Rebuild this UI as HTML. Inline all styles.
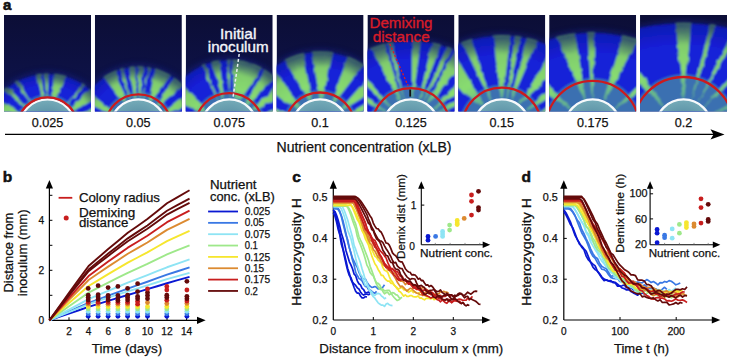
<!DOCTYPE html>
<html><head><meta charset="utf-8"><style>
html,body{margin:0;padding:0;background:#fff;width:729px;height:359px;overflow:hidden;}
svg{display:block;font-family:"Liberation Sans", sans-serif;}
</style></head><body>
<svg width="729" height="359" viewBox="0 0 729 359">
<rect width="729" height="359" fill="#fff"/>
<defs>
<filter id="bl" x="-10%" y="-10%" width="120%" height="120%"><feGaussianBlur stdDeviation="1.2"/></filter>
<filter id="bl2" x="-30%" y="-30%" width="160%" height="160%"><feGaussianBlur stdDeviation="3"/></filter>
<filter id="rag" x="-10%" y="-10%" width="120%" height="120%"><feTurbulence type="fractalNoise" baseFrequency="0.12" numOctaves="2" seed="3" result="n"/><feDisplacementMap in="SourceGraphic" in2="n" scale="4" xChannelSelector="R" yChannelSelector="G" result="d"/><feGaussianBlur in="d" stdDeviation="0.6"/></filter>
<linearGradient id="bgg" x1="0" y1="0" x2="0" y2="1"><stop offset="0" stop-color="#0c0e36"/><stop offset="1" stop-color="#0e1450"/></linearGradient>
<clipPath id="cp0"><rect x="4.00" y="15.0" width="87.0" height="96.5"/></clipPath>
<clipPath id="cc0"><ellipse cx="47.50" cy="127.5" rx="61.00" ry="54.00"/></clipPath>
<radialGradient id="gg0" gradientUnits="userSpaceOnUse" cx="47.50" cy="127.5" r="54.00" gradientTransform="translate(47.50,127.5) scale(1.1321,1) translate(-47.50,-127.5)"><stop offset="0.3" stop-color="#6cbc88"/><stop offset="0.55" stop-color="#88dc70"/><stop offset="0.8" stop-color="#80cc6c"/><stop offset="1" stop-color="#4a7c5c"/></radialGradient>
<radialGradient id="sh0" gradientUnits="userSpaceOnUse" cx="47.50" cy="127.5" r="54.00" gradientTransform="translate(47.50,127.5) scale(1.1321,1) translate(-47.50,-127.5)"><stop offset="0.78" stop-color="#0a1080" stop-opacity="0"/><stop offset="1" stop-color="#0a1080" stop-opacity="0.45"/></radialGradient>
<radialGradient id="ig0" gradientUnits="userSpaceOnUse" cx="47.50" cy="133.5" r="32"><stop offset="0" stop-color="#44708a"/><stop offset="0.6" stop-color="#5c92a6"/><stop offset="1" stop-color="#72a8b6"/></radialGradient>
<clipPath id="cp1"><rect x="94.86" y="15.0" width="87.0" height="96.5"/></clipPath>
<clipPath id="cc1"><ellipse cx="138.36" cy="127.5" rx="62.00" ry="61.20"/></clipPath>
<radialGradient id="gg1" gradientUnits="userSpaceOnUse" cx="138.36" cy="127.5" r="61.20" gradientTransform="translate(138.36,127.5) scale(1.0133,1) translate(-138.36,-127.5)"><stop offset="0.3" stop-color="#6cbc88"/><stop offset="0.55" stop-color="#88dc70"/><stop offset="0.8" stop-color="#80cc6c"/><stop offset="1" stop-color="#4a7c5c"/></radialGradient>
<radialGradient id="sh1" gradientUnits="userSpaceOnUse" cx="138.36" cy="127.5" r="61.20" gradientTransform="translate(138.36,127.5) scale(1.0133,1) translate(-138.36,-127.5)"><stop offset="0.78" stop-color="#0a1080" stop-opacity="0"/><stop offset="1" stop-color="#0a1080" stop-opacity="0.45"/></radialGradient>
<radialGradient id="ig1" gradientUnits="userSpaceOnUse" cx="138.36" cy="133.5" r="32"><stop offset="0" stop-color="#44708a"/><stop offset="0.6" stop-color="#5c92a6"/><stop offset="1" stop-color="#72a8b6"/></radialGradient>
<clipPath id="cp2"><rect x="185.72" y="15.0" width="87.0" height="96.5"/></clipPath>
<clipPath id="cc2"><ellipse cx="229.22" cy="127.5" rx="68.00" ry="68.10"/></clipPath>
<radialGradient id="gg2" gradientUnits="userSpaceOnUse" cx="229.22" cy="127.5" r="68.10" gradientTransform="translate(229.22,127.5) scale(0.9985,1) translate(-229.22,-127.5)"><stop offset="0.3" stop-color="#6cbc88"/><stop offset="0.55" stop-color="#88dc70"/><stop offset="0.8" stop-color="#80cc6c"/><stop offset="1" stop-color="#4a7c5c"/></radialGradient>
<radialGradient id="sh2" gradientUnits="userSpaceOnUse" cx="229.22" cy="127.5" r="68.10" gradientTransform="translate(229.22,127.5) scale(0.9985,1) translate(-229.22,-127.5)"><stop offset="0.78" stop-color="#0a1080" stop-opacity="0"/><stop offset="1" stop-color="#0a1080" stop-opacity="0.45"/></radialGradient>
<radialGradient id="ig2" gradientUnits="userSpaceOnUse" cx="229.22" cy="133.5" r="32"><stop offset="0" stop-color="#44708a"/><stop offset="0.6" stop-color="#5c92a6"/><stop offset="1" stop-color="#72a8b6"/></radialGradient>
<clipPath id="cp3"><rect x="276.58" y="15.0" width="87.0" height="96.5"/></clipPath>
<clipPath id="cc3"><ellipse cx="320.08" cy="127.5" rx="77.00" ry="76.20"/></clipPath>
<radialGradient id="gg3" gradientUnits="userSpaceOnUse" cx="320.08" cy="127.5" r="76.20" gradientTransform="translate(320.08,127.5) scale(1.0106,1) translate(-320.08,-127.5)"><stop offset="0.3" stop-color="#6cbc88"/><stop offset="0.55" stop-color="#88dc70"/><stop offset="0.8" stop-color="#80cc6c"/><stop offset="1" stop-color="#4a7c5c"/></radialGradient>
<radialGradient id="sh3" gradientUnits="userSpaceOnUse" cx="320.08" cy="127.5" r="76.20" gradientTransform="translate(320.08,127.5) scale(1.0106,1) translate(-320.08,-127.5)"><stop offset="0.78" stop-color="#0a1080" stop-opacity="0"/><stop offset="1" stop-color="#0a1080" stop-opacity="0.45"/></radialGradient>
<radialGradient id="ig3" gradientUnits="userSpaceOnUse" cx="320.08" cy="133.5" r="32"><stop offset="0" stop-color="#44708a"/><stop offset="0.6" stop-color="#5c92a6"/><stop offset="1" stop-color="#72a8b6"/></radialGradient>
<clipPath id="cp4"><rect x="367.44" y="15.0" width="87.0" height="96.5"/></clipPath>
<clipPath id="cc4"><ellipse cx="410.94" cy="127.5" rx="97.00" ry="87.20"/></clipPath>
<radialGradient id="gg4" gradientUnits="userSpaceOnUse" cx="410.94" cy="127.5" r="87.20" gradientTransform="translate(410.94,127.5) scale(1.1137,1) translate(-410.94,-127.5)"><stop offset="0.3" stop-color="#6cbc88"/><stop offset="0.55" stop-color="#88dc70"/><stop offset="0.8" stop-color="#80cc6c"/><stop offset="1" stop-color="#4a7c5c"/></radialGradient>
<radialGradient id="sh4" gradientUnits="userSpaceOnUse" cx="410.94" cy="127.5" r="87.20" gradientTransform="translate(410.94,127.5) scale(1.1137,1) translate(-410.94,-127.5)"><stop offset="0.78" stop-color="#0a1080" stop-opacity="0"/><stop offset="1" stop-color="#0a1080" stop-opacity="0.45"/></radialGradient>
<radialGradient id="ig4" gradientUnits="userSpaceOnUse" cx="410.94" cy="133.5" r="32"><stop offset="0" stop-color="#44708a"/><stop offset="0.6" stop-color="#5c92a6"/><stop offset="1" stop-color="#72a8b6"/></radialGradient>
<clipPath id="cp5"><rect x="458.30" y="15.0" width="87.0" height="96.5"/></clipPath>
<clipPath id="cc5"><ellipse cx="501.80" cy="127.5" rx="104.00" ry="92.60"/></clipPath>
<radialGradient id="gg5" gradientUnits="userSpaceOnUse" cx="501.80" cy="127.5" r="92.60" gradientTransform="translate(501.80,127.5) scale(1.1245,1) translate(-501.80,-127.5)"><stop offset="0.3" stop-color="#6cbc88"/><stop offset="0.55" stop-color="#88dc70"/><stop offset="0.8" stop-color="#80cc6c"/><stop offset="1" stop-color="#4a7c5c"/></radialGradient>
<radialGradient id="sh5" gradientUnits="userSpaceOnUse" cx="501.80" cy="127.5" r="92.60" gradientTransform="translate(501.80,127.5) scale(1.1245,1) translate(-501.80,-127.5)"><stop offset="0.78" stop-color="#0a1080" stop-opacity="0"/><stop offset="1" stop-color="#0a1080" stop-opacity="0.45"/></radialGradient>
<radialGradient id="ig5" gradientUnits="userSpaceOnUse" cx="501.80" cy="133.5" r="32"><stop offset="0" stop-color="#44708a"/><stop offset="0.6" stop-color="#5c92a6"/><stop offset="1" stop-color="#72a8b6"/></radialGradient>
<clipPath id="cp6"><rect x="549.16" y="15.0" width="87.0" height="96.5"/></clipPath>
<clipPath id="cc6"><ellipse cx="592.66" cy="127.5" rx="119.00" ry="95.40"/></clipPath>
<radialGradient id="gg6" gradientUnits="userSpaceOnUse" cx="592.66" cy="127.5" r="95.40" gradientTransform="translate(592.66,127.5) scale(1.2500,1) translate(-592.66,-127.5)"><stop offset="0.3" stop-color="#6cbc88"/><stop offset="0.55" stop-color="#88dc70"/><stop offset="0.8" stop-color="#80cc6c"/><stop offset="1" stop-color="#4a7c5c"/></radialGradient>
<radialGradient id="sh6" gradientUnits="userSpaceOnUse" cx="592.66" cy="127.5" r="95.40" gradientTransform="translate(592.66,127.5) scale(1.2500,1) translate(-592.66,-127.5)"><stop offset="0.78" stop-color="#0a1080" stop-opacity="0"/><stop offset="1" stop-color="#0a1080" stop-opacity="0.45"/></radialGradient>
<radialGradient id="ig6" gradientUnits="userSpaceOnUse" cx="592.66" cy="133.5" r="32"><stop offset="0" stop-color="#44708a"/><stop offset="0.6" stop-color="#5c92a6"/><stop offset="1" stop-color="#72a8b6"/></radialGradient>
<clipPath id="cp7"><rect x="640.02" y="15.0" width="87.0" height="96.5"/></clipPath>
<clipPath id="cc7"><ellipse cx="683.52" cy="127.5" rx="151.00" ry="104.90"/></clipPath>
<radialGradient id="gg7" gradientUnits="userSpaceOnUse" cx="683.52" cy="127.5" r="104.90" gradientTransform="translate(683.52,127.5) scale(1.4437,1) translate(-683.52,-127.5)"><stop offset="0.3" stop-color="#6cbc88"/><stop offset="0.55" stop-color="#88dc70"/><stop offset="0.8" stop-color="#80cc6c"/><stop offset="1" stop-color="#4a7c5c"/></radialGradient>
<radialGradient id="sh7" gradientUnits="userSpaceOnUse" cx="683.52" cy="127.5" r="104.90" gradientTransform="translate(683.52,127.5) scale(1.4437,1) translate(-683.52,-127.5)"><stop offset="0.78" stop-color="#0a1080" stop-opacity="0"/><stop offset="1" stop-color="#0a1080" stop-opacity="0.45"/></radialGradient>
<radialGradient id="ig7" gradientUnits="userSpaceOnUse" cx="683.52" cy="133.5" r="32"><stop offset="0" stop-color="#44708a"/><stop offset="0.6" stop-color="#5c92a6"/><stop offset="1" stop-color="#72a8b6"/></radialGradient>
</defs>
<g clip-path="url(#cp0)">
<rect x="4.00" y="15.0" width="87.0" height="96.5" fill="url(#bgg)"/>
<ellipse cx="47.50" cy="127.5" rx="63.00" ry="56.00" fill="#16228e" opacity="0.55" filter="url(#bl2)"/>
<g filter="url(#bl)">
<ellipse cx="47.50" cy="127.5" rx="60.00" ry="53.00" fill="#1420d8"/>
<circle cx="47.50" cy="127.5" r="30.15" fill="none" stroke="#4a90a0" stroke-width="5.10" opacity="0.6"/>
<g clip-path="url(#cc0)"><g filter="url(#rag)">
<path d="M21.64,114.15 L-5.91,94.96 L-11.76,107.50 L20.65,116.27 Z" fill="url(#gg0)"/>
<path d="M26.62,107.23 L5.58,83.99 L1.18,88.71 L25.82,108.08 Z" fill="url(#gg0)"/>
<path d="M31.52,103.18 L16.09,77.65 L13.04,79.70 L30.94,103.57 Z" fill="url(#gg0)"/>
<path d="M43.53,98.67 L41.41,70.68 L35.73,71.58 L42.37,98.86 Z" fill="url(#gg0)"/>
<path d="M47.46,98.40 L48.79,70.51 L44.22,70.59 L46.53,98.42 Z" fill="url(#gg0)"/>
<path d="M55.40,99.49 L67.04,73.64 L53.55,70.52 L52.67,98.86 Z" fill="url(#gg0)"/>
<path d="M66.47,105.43 L87.22,83.09 L84.34,80.67 L65.94,104.98 Z" fill="url(#gg0)"/>
<path d="M71.71,111.35 L100.68,97.06 L92.89,86.33 L70.34,109.46 Z" fill="url(#gg0)"/>
<path d="M75.08,118.21 L108.05,109.96 L105.16,102.02 L74.60,116.89 Z" fill="url(#gg0)"/>
</g></g>
<ellipse cx="47.50" cy="127.5" rx="60.00" ry="53.00" fill="url(#sh0)"/>
<circle cx="47.50" cy="127.5" r="30.15" fill="none" stroke="#4c98a4" stroke-width="5.10" opacity="0.25"/>
</g>
<circle cx="47.50" cy="127.5" r="28.10" fill="url(#ig0)" stroke="#f6f9fb" stroke-width="2.4"/>
<circle cx="47.50" cy="127.5" r="30.20" fill="none" stroke="#cc1a1e" stroke-width="2.3"/>
</g>
<text x="47.50" y="127" font-size="12.6" text-anchor="middle" fill="#111" font-weight="normal" stroke="#111" stroke-width="0.25">0.025</text>
<g clip-path="url(#cp1)">
<rect x="94.86" y="15.0" width="87.0" height="96.5" fill="url(#bgg)"/>
<ellipse cx="138.36" cy="127.5" rx="64.00" ry="63.20" fill="#16228e" opacity="0.55" filter="url(#bl2)"/>
<g filter="url(#bl)">
<ellipse cx="138.36" cy="127.5" rx="61.00" ry="60.20" fill="#1420d8"/>
<circle cx="138.36" cy="127.5" r="31.65" fill="none" stroke="#4a90a0" stroke-width="8.10" opacity="0.6"/>
<g clip-path="url(#cc1)"><g filter="url(#rag)">
<path d="M113.76,111.95 L85.81,89.59 L79.25,100.95 L112.60,113.97 Z" fill="url(#gg1)"/>
<path d="M125.95,101.18 L115.21,67.43 L101.51,74.72 L123.48,102.49 Z" fill="url(#gg1)"/>
<path d="M130.68,99.43 L122.52,65.22 L118.79,66.29 L130.00,99.63 Z" fill="url(#gg1)"/>
<path d="M136.02,98.49 L135.50,63.35 L127.82,64.16 L134.62,98.64 Z" fill="url(#gg1)"/>
<path d="M139.96,98.44 L143.82,63.53 L137.38,63.31 L138.79,98.40 Z" fill="url(#gg1)"/>
<path d="M143.64,98.88 L150.78,64.49 L148.24,64.04 L143.18,98.80 Z" fill="url(#gg1)"/>
<path d="M151.67,101.62 L172.51,72.99 L156.02,65.64 L148.68,100.29 Z" fill="url(#gg1)"/>
<path d="M158.32,106.32 L185.39,83.30 L175.58,74.77 L156.55,104.79 Z" fill="url(#gg1)"/>
<path d="M164.36,114.42 L197.93,101.98 L191.57,90.50 L163.22,112.38 Z" fill="url(#gg1)"/>
</g></g>
<ellipse cx="138.36" cy="127.5" rx="61.00" ry="60.20" fill="url(#sh1)"/>
<circle cx="138.36" cy="127.5" r="31.65" fill="none" stroke="#4c98a4" stroke-width="8.10" opacity="0.25"/>
</g>
<circle cx="138.36" cy="127.5" r="28.10" fill="url(#ig1)" stroke="#f6f9fb" stroke-width="2.4"/>
<circle cx="138.36" cy="127.5" r="33.20" fill="none" stroke="#cc1a1e" stroke-width="2.3"/>
</g>
<text x="138.36" y="127" font-size="12.6" text-anchor="middle" fill="#111" font-weight="normal" stroke="#111" stroke-width="0.25">0.05</text>
<g clip-path="url(#cp2)">
<rect x="185.72" y="15.0" width="87.0" height="96.5" fill="url(#bgg)"/>
<ellipse cx="229.22" cy="127.5" rx="70.00" ry="70.10" fill="#16228e" opacity="0.55" filter="url(#bl2)"/>
<g filter="url(#bl)">
<ellipse cx="229.22" cy="127.5" rx="67.00" ry="67.10" fill="#1420d8"/>
<circle cx="229.22" cy="127.5" r="32.20" fill="none" stroke="#4a90a0" stroke-width="9.20" opacity="0.6"/>
<g clip-path="url(#cc2)"><g filter="url(#rag)">
<path d="M206.19,109.71 L177.43,78.88 L164.74,97.70 L204.10,112.81 Z" fill="url(#gg2)"/>
<path d="M218.41,100.48 L204.01,61.04 L200.05,62.67 L217.76,100.75 Z" fill="url(#gg2)"/>
<path d="M224.01,98.87 L219.02,57.14 L210.64,58.87 L222.63,99.15 Z" fill="url(#gg2)"/>
<path d="M229.45,98.40 L230.65,56.41 L227.79,56.41 L228.99,98.40 Z" fill="url(#gg2)"/>
<path d="M239.89,100.43 L264.55,65.81 L231.95,56.46 L234.51,98.89 Z" fill="url(#gg2)"/>
<path d="M247.65,104.98 L277.46,75.31 L266.09,66.75 L245.79,103.58 Z" fill="url(#gg2)"/>
<path d="M253.43,111.35 L290.58,91.71 L282.22,80.20 L252.06,109.46 Z" fill="url(#gg2)"/>
<path d="M257.17,119.40 L298.29,111.04 L294.78,100.22 L256.59,117.62 Z" fill="url(#gg2)"/>
</g></g>
<ellipse cx="229.22" cy="127.5" rx="67.00" ry="67.10" fill="url(#sh2)"/>
<circle cx="229.22" cy="127.5" r="32.20" fill="none" stroke="#4c98a4" stroke-width="9.20" opacity="0.25"/>
</g>
<circle cx="229.22" cy="127.5" r="28.10" fill="url(#ig2)" stroke="#f6f9fb" stroke-width="2.4"/>
<circle cx="229.22" cy="127.5" r="34.30" fill="none" stroke="#cc1a1e" stroke-width="2.3"/>
</g>
<text x="229.22" y="127" font-size="12.6" text-anchor="middle" fill="#111" font-weight="normal" stroke="#111" stroke-width="0.25">0.075</text>
<g clip-path="url(#cp3)">
<rect x="276.58" y="15.0" width="87.0" height="96.5" fill="url(#bgg)"/>
<ellipse cx="320.08" cy="127.5" rx="79.00" ry="78.20" fill="#16228e" opacity="0.55" filter="url(#bl2)"/>
<g filter="url(#bl)">
<ellipse cx="320.08" cy="127.5" rx="76.00" ry="75.20" fill="#1420d8"/>
<circle cx="320.08" cy="127.5" r="32.55" fill="none" stroke="#4a90a0" stroke-width="9.90" opacity="0.6"/>
<g clip-path="url(#cc3)"><g filter="url(#rag)">
<path d="M292.98,116.89 L246.79,95.66 L243.47,104.78 L292.50,118.21 Z" fill="url(#gg3)"/>
<path d="M300.12,106.33 L271.33,64.54 L253.87,83.27 L297.57,109.06 Z" fill="url(#gg3)"/>
<path d="M311.57,99.67 L302.90,50.09 L283.49,57.16 L308.71,100.71 Z" fill="url(#gg3)"/>
<path d="M322.73,98.52 L333.90,49.51 L311.73,48.74 L319.46,98.41 Z" fill="url(#gg3)"/>
<path d="M334.96,102.49 L365.51,62.41 L348.63,53.44 L332.49,101.18 Z" fill="url(#gg3)"/>
<path d="M343.18,109.80 L386.41,83.37 L375.06,69.84 L341.52,107.83 Z" fill="url(#gg3)"/>
<path d="M347.03,116.52 L395.43,101.03 L390.17,89.22 L346.27,114.82 Z" fill="url(#gg3)"/>
</g></g>
<ellipse cx="320.08" cy="127.5" rx="76.00" ry="75.20" fill="url(#sh3)"/>
<circle cx="320.08" cy="127.5" r="32.55" fill="none" stroke="#4c98a4" stroke-width="9.90" opacity="0.25"/>
</g>
<circle cx="320.08" cy="127.5" r="28.10" fill="url(#ig3)" stroke="#f6f9fb" stroke-width="2.4"/>
<circle cx="320.08" cy="127.5" r="35.00" fill="none" stroke="#cc1a1e" stroke-width="2.3"/>
</g>
<text x="320.08" y="127" font-size="12.6" text-anchor="middle" fill="#111" font-weight="normal" stroke="#111" stroke-width="0.25">0.1</text>
<g clip-path="url(#cp4)">
<rect x="367.44" y="15.0" width="87.0" height="96.5" fill="url(#bgg)"/>
<ellipse cx="410.94" cy="127.5" rx="99.00" ry="89.20" fill="#16228e" opacity="0.55" filter="url(#bl2)"/>
<g filter="url(#bl)">
<ellipse cx="410.94" cy="127.5" rx="96.00" ry="86.20" fill="#1420d8"/>
<circle cx="410.94" cy="127.5" r="34.70" fill="none" stroke="#4a90a0" stroke-width="14.20" opacity="0.6"/>
<g clip-path="url(#cc4)"><g filter="url(#rag)">
<path d="M386.59,111.57 L331.78,71.59 L325.98,80.86 L385.94,112.60 Z" fill="url(#gg4)"/>
<path d="M390.80,106.50 L347.76,56.95 L340.39,64.32 L389.94,107.36 Z" fill="url(#gg4)"/>
<path d="M400.99,100.15 L384.32,40.07 L369.35,46.12 L399.10,100.92 Z" fill="url(#gg4)"/>
<path d="M404.20,99.19 L391.32,38.95 L386.69,40.11 L403.60,99.34 Z" fill="url(#gg4)"/>
<path d="M413.32,98.50 L421.16,37.85 L411.73,37.27 L412.11,98.42 Z" fill="url(#gg4)"/>
<path d="M420.03,99.86 L442.07,42.07 L432.90,39.27 L418.86,99.50 Z" fill="url(#gg4)"/>
<path d="M424.06,101.53 L454.12,46.43 L448.24,43.57 L423.33,101.17 Z" fill="url(#gg4)"/>
<path d="M428.45,104.26 L470.98,56.37 L457.25,46.75 L426.79,103.09 Z" fill="url(#gg4)"/>
<path d="M433.75,109.42 L488.49,71.67 L479.39,60.82 L432.70,108.18 Z" fill="url(#gg4)"/>
<path d="M436.91,114.38 L499.54,86.67 L494.34,76.88 L436.34,113.30 Z" fill="url(#gg4)"/>
</g></g>
<ellipse cx="410.94" cy="127.5" rx="96.00" ry="86.20" fill="url(#sh4)"/>
<circle cx="410.94" cy="127.5" r="34.70" fill="none" stroke="#4c98a4" stroke-width="14.20" opacity="0.25"/>
</g>
<circle cx="410.94" cy="127.5" r="28.10" fill="url(#ig4)" stroke="#f6f9fb" stroke-width="2.4"/>
<circle cx="410.94" cy="127.5" r="39.30" fill="none" stroke="#cc1a1e" stroke-width="2.3"/>
</g>
<text x="410.94" y="127" font-size="12.6" text-anchor="middle" fill="#111" font-weight="normal" stroke="#111" stroke-width="0.25">0.125</text>
<g clip-path="url(#cp5)">
<rect x="458.30" y="15.0" width="87.0" height="96.5" fill="url(#bgg)"/>
<ellipse cx="501.80" cy="127.5" rx="106.00" ry="94.60" fill="#16228e" opacity="0.55" filter="url(#bl2)"/>
<g filter="url(#bl)">
<ellipse cx="501.80" cy="127.5" rx="103.00" ry="91.60" fill="#1420d8"/>
<circle cx="501.80" cy="127.5" r="35.00" fill="none" stroke="#4a90a0" stroke-width="14.80" opacity="0.6"/>
<g clip-path="url(#cc5)"><g filter="url(#rag)">
<path d="M483.96,104.51 L447.89,43.25 L425.87,62.39 L481.51,106.64 Z" fill="url(#gg5)"/>
<path d="M491.47,100.30 L470.30,35.78 L460.75,39.64 L490.34,100.75 Z" fill="url(#gg5)"/>
<path d="M502.92,98.42 L510.96,32.34 L492.64,32.34 L500.68,98.42 Z" fill="url(#gg5)"/>
<path d="M507.25,98.92 L521.75,33.71 L515.13,32.54 L506.45,98.77 Z" fill="url(#gg5)"/>
<path d="M511.94,100.23 L538.84,38.25 L527.56,34.36 L510.60,99.76 Z" fill="url(#gg5)"/>
<path d="M520.43,105.14 L569.24,54.39 L556.42,44.38 L518.99,104.02 Z" fill="url(#gg5)"/>
<path d="M526.04,111.40 L589.70,74.21 L581.94,63.12 L525.22,110.23 Z" fill="url(#gg5)"/>
<path d="M528.97,117.07 L601.07,92.85 L597.27,83.46 L528.59,116.13 Z" fill="url(#gg5)"/>
</g></g>
<ellipse cx="501.80" cy="127.5" rx="103.00" ry="91.60" fill="url(#sh5)"/>
<circle cx="501.80" cy="127.5" r="35.00" fill="none" stroke="#4c98a4" stroke-width="14.80" opacity="0.25"/>
</g>
<circle cx="501.80" cy="127.5" r="28.10" fill="url(#ig5)" stroke="#f6f9fb" stroke-width="2.4"/>
<circle cx="501.80" cy="127.5" r="39.90" fill="none" stroke="#cc1a1e" stroke-width="2.3"/>
</g>
<text x="501.80" y="127" font-size="12.6" text-anchor="middle" fill="#111" font-weight="normal" stroke="#111" stroke-width="0.25">0.15</text>
<g clip-path="url(#cp6)">
<rect x="549.16" y="15.0" width="87.0" height="96.5" fill="url(#bgg)"/>
<ellipse cx="592.66" cy="127.5" rx="121.00" ry="97.40" fill="#16228e" opacity="0.55" filter="url(#bl2)"/>
<g filter="url(#bl)">
<ellipse cx="592.66" cy="127.5" rx="118.00" ry="94.40" fill="#1420d8"/>
<circle cx="592.66" cy="127.5" r="38.40" fill="none" stroke="#4a90a0" stroke-width="21.60" opacity="0.6"/>
<g clip-path="url(#cc6)"><g filter="url(#rag)">
<path d="M570.97,108.10 L514.76,49.42 L502.24,64.34 L569.79,109.50 Z" fill="url(#gg6)"/>
<path d="M585.70,99.24 L574.45,29.46 L556.15,34.70 L583.59,99.85 Z" fill="url(#gg6)"/>
<path d="M592.61,98.40 L594.81,29.12 L587.08,29.25 L591.70,98.42 Z" fill="url(#gg6)"/>
<path d="M604.87,101.08 L639.55,37.92 L624.53,31.55 L603.18,100.37 Z" fill="url(#gg6)"/>
<path d="M615.30,109.22 L680.79,61.19 L673.27,52.22 L614.60,108.38 Z" fill="url(#gg6)"/>
</g></g>
<ellipse cx="592.66" cy="127.5" rx="118.00" ry="94.40" fill="url(#sh6)"/>
<circle cx="592.66" cy="127.5" r="38.40" fill="none" stroke="#4c98a4" stroke-width="21.60" opacity="0.25"/>
</g>
<circle cx="592.66" cy="127.5" r="28.10" fill="url(#ig6)" stroke="#f6f9fb" stroke-width="2.4"/>
<circle cx="592.66" cy="127.5" r="46.70" fill="none" stroke="#cc1a1e" stroke-width="2.3"/>
</g>
<text x="592.66" y="127" font-size="12.6" text-anchor="middle" fill="#111" font-weight="normal" stroke="#111" stroke-width="0.25">0.175</text>
<g clip-path="url(#cp7)">
<rect x="640.02" y="15.0" width="87.0" height="96.5" fill="url(#bgg)"/>
<ellipse cx="683.52" cy="127.5" rx="153.00" ry="106.90" fill="#16228e" opacity="0.55" filter="url(#bl2)"/>
<g filter="url(#bl)">
<ellipse cx="683.52" cy="127.5" rx="150.00" ry="103.90" fill="#1420d8"/>
<circle cx="683.52" cy="127.5" r="40.30" fill="none" stroke="#4a90a0" stroke-width="25.40" opacity="0.6"/>
<g clip-path="url(#cc7)"><g filter="url(#rag)">
<path d="M664.63,105.37 L608.59,30.42 L594.81,42.84 L663.48,106.40 Z" fill="url(#gg7)"/>
<path d="M684.39,98.41 L691.56,19.90 L675.48,19.90 L682.65,98.41 Z" fill="url(#gg7)"/>
<path d="M691.82,99.61 L716.52,22.55 L711.15,21.01 L691.26,99.45 Z" fill="url(#gg7)"/>
<path d="M697.88,102.19 L741.87,28.52 L736.54,25.56 L697.37,101.91 Z" fill="url(#gg7)"/>
<path d="M704.37,107.20 L775.10,42.73 L768.29,35.92 L703.82,106.65 Z" fill="url(#gg7)"/>
<path d="M710.05,115.55 L814.07,73.45 L808.84,62.23 L709.73,114.85 Z" fill="url(#gg7)"/>
</g></g>
<ellipse cx="683.52" cy="127.5" rx="150.00" ry="103.90" fill="url(#sh7)"/>
<circle cx="683.52" cy="127.5" r="40.30" fill="none" stroke="#4c98a4" stroke-width="25.40" opacity="0.25"/>
</g>
<circle cx="683.52" cy="127.5" r="28.10" fill="url(#ig7)" stroke="#f6f9fb" stroke-width="2.4"/>
<circle cx="683.52" cy="127.5" r="50.50" fill="none" stroke="#cc1a1e" stroke-width="2.3"/>
</g>
<text x="683.52" y="127" font-size="12.6" text-anchor="middle" fill="#111" font-weight="normal" stroke="#111" stroke-width="0.25">0.2</text>
<text x="238.2" y="39.1" font-size="14.4" text-anchor="middle" fill="#f4f6fa" font-weight="normal" textLength="36.3" lengthAdjust="spacingAndGlyphs" stroke="#f4f6fa" stroke-width="0.35">Initial</text>
<text x="238.2" y="51.7" font-size="14.4" text-anchor="middle" fill="#f4f6fa" font-weight="normal" textLength="60.8" lengthAdjust="spacingAndGlyphs" stroke="#f4f6fa" stroke-width="0.35">inoculum</text>
<line x1="239.2" y1="54" x2="233" y2="97.5" stroke="#e8eef4" stroke-width="1.5" stroke-dasharray="3,2"/>
<text x="401" y="28.2" font-size="14.4" text-anchor="middle" fill="#d81c28" font-weight="normal" textLength="63" lengthAdjust="spacingAndGlyphs" stroke="#d81c28" stroke-width="0.35">Demixing</text>
<text x="401.2" y="41.5" font-size="14.4" text-anchor="middle" fill="#d81c28" font-weight="normal" textLength="57" lengthAdjust="spacingAndGlyphs" stroke="#d81c28" stroke-width="0.35">distance</text>
<line x1="389.8" y1="44" x2="408.1" y2="85.8" stroke="#d81c28" stroke-width="1.3" stroke-dasharray="2.2,1.8"/>
<line x1="410.2" y1="89.6" x2="410.2" y2="96.6" stroke="#111" stroke-width="1.8"/>
<line x1="5" y1="134.4" x2="714" y2="134.4" stroke="#000" stroke-width="1.3"/>
<path d="M724.5,134.4 L710.5,129.3 L713.5,134.4 L710.5,139.5 Z" fill="#000"/>
<text x="364" y="152.4" font-size="14.2" text-anchor="middle" fill="#111" font-weight="normal" textLength="175" lengthAdjust="spacingAndGlyphs" stroke="#111" stroke-width="0.25">Nutrient concentration (xLB)</text>
<text x="3" y="10.3" font-size="15" text-anchor="start" fill="#111" font-weight="bold" stroke="#111" stroke-width="0.6">a</text>
<line x1="49.4" y1="320.3" x2="49.4" y2="186" stroke="#000" stroke-width="1.2"/>
<path d="M49.4,180 L45.8,188.5 L53.0,188.5 Z" fill="#000"/>
<line x1="49.4" y1="320.3" x2="198" y2="320.3" stroke="#000" stroke-width="1.2"/>
<path d="M205.7,320.3 L197,316.7 L197,323.90000000000003 Z" fill="#000"/>
<line x1="49.4" y1="295.3" x2="52.4" y2="295.3" stroke="#000" stroke-width="1"/>
<line x1="49.4" y1="270.3" x2="52.4" y2="270.3" stroke="#000" stroke-width="1"/>
<line x1="49.4" y1="245.3" x2="52.4" y2="245.3" stroke="#000" stroke-width="1"/>
<line x1="49.4" y1="220.3" x2="52.4" y2="220.3" stroke="#000" stroke-width="1"/>
<line x1="49.4" y1="195.3" x2="52.4" y2="195.3" stroke="#000" stroke-width="1"/>
<line x1="69.00" y1="320.3" x2="69.00" y2="317.3" stroke="#000" stroke-width="1"/>
<text x="69.00" y="334.5" font-size="10.2" text-anchor="middle" fill="#111" font-weight="normal" textLength="5.6" lengthAdjust="spacingAndGlyphs" stroke="#111" stroke-width="0.25">2</text>
<line x1="88.60" y1="320.3" x2="88.60" y2="317.3" stroke="#000" stroke-width="1"/>
<text x="88.60" y="334.5" font-size="10.2" text-anchor="middle" fill="#111" font-weight="normal" textLength="5.6" lengthAdjust="spacingAndGlyphs" stroke="#111" stroke-width="0.25">4</text>
<line x1="108.20" y1="320.3" x2="108.20" y2="317.3" stroke="#000" stroke-width="1"/>
<text x="108.20" y="334.5" font-size="10.2" text-anchor="middle" fill="#111" font-weight="normal" textLength="5.6" lengthAdjust="spacingAndGlyphs" stroke="#111" stroke-width="0.25">6</text>
<line x1="127.80" y1="320.3" x2="127.80" y2="317.3" stroke="#000" stroke-width="1"/>
<text x="127.80" y="334.5" font-size="10.2" text-anchor="middle" fill="#111" font-weight="normal" textLength="5.6" lengthAdjust="spacingAndGlyphs" stroke="#111" stroke-width="0.25">8</text>
<line x1="147.40" y1="320.3" x2="147.40" y2="317.3" stroke="#000" stroke-width="1"/>
<text x="147.40" y="334.5" font-size="10.2" text-anchor="middle" fill="#111" font-weight="normal" textLength="11.4" lengthAdjust="spacingAndGlyphs" stroke="#111" stroke-width="0.25">10</text>
<line x1="167.00" y1="320.3" x2="167.00" y2="317.3" stroke="#000" stroke-width="1"/>
<text x="167.00" y="334.5" font-size="10.2" text-anchor="middle" fill="#111" font-weight="normal" textLength="11.4" lengthAdjust="spacingAndGlyphs" stroke="#111" stroke-width="0.25">12</text>
<line x1="186.60" y1="320.3" x2="186.60" y2="317.3" stroke="#000" stroke-width="1"/>
<text x="186.60" y="334.5" font-size="10.2" text-anchor="middle" fill="#111" font-weight="normal" textLength="11.4" lengthAdjust="spacingAndGlyphs" stroke="#111" stroke-width="0.25">14</text>
<text x="44.2" y="323.90000000000003" font-size="10.2" text-anchor="end" fill="#111" font-weight="normal" stroke="#111" stroke-width="0.25">0</text>
<text x="44.2" y="273.90000000000003" font-size="10.2" text-anchor="end" fill="#111" font-weight="normal" stroke="#111" stroke-width="0.25">2</text>
<text x="44.2" y="223.9" font-size="10.2" text-anchor="end" fill="#111" font-weight="normal" stroke="#111" stroke-width="0.25">4</text>
<text x="13.4" y="252.6" font-size="13" text-anchor="middle" fill="#111" font-weight="normal" textLength="80" lengthAdjust="spacingAndGlyphs" transform="rotate(-90 13.4 252.6)" stroke="#111" stroke-width="0.25">Distance from</text>
<text x="26.6" y="252.8" font-size="13" text-anchor="middle" fill="#111" font-weight="normal" textLength="87" lengthAdjust="spacingAndGlyphs" transform="rotate(-90 26.6 252.8)" stroke="#111" stroke-width="0.25">inoculum (mm)</text>
<text x="127" y="352.6" font-size="13.4" text-anchor="middle" fill="#111" font-weight="normal" textLength="70.4" lengthAdjust="spacingAndGlyphs" stroke="#111" stroke-width="0.25">Time (days)</text>
<text x="2.8" y="182.3" font-size="15.5" text-anchor="start" fill="#111" font-weight="bold" stroke="#111" stroke-width="0.5">b</text>
<polyline points="49.40,320.30 59.20,316.95 69.00,313.59 78.80,310.26 88.60,306.94 98.40,303.93 108.20,300.93 118.00,297.95 127.80,294.98 137.60,292.08 147.40,289.19 157.20,286.23 167.00,283.27 176.80,280.46 189.54,276.80" fill="none" stroke="#0a18d2" stroke-width="1.9" stroke-linejoin="round"/>
<polyline points="49.40,320.30 59.20,315.93 69.00,311.56 78.80,307.24 88.60,302.92 98.40,299.30 108.20,295.68 118.00,292.11 127.80,288.54 137.60,285.15 147.40,281.76 157.20,278.23 167.00,274.70 176.80,271.48 189.54,267.30" fill="none" stroke="#3a78e4" stroke-width="1.9" stroke-linejoin="round"/>
<polyline points="49.40,320.30 59.20,316.21 69.00,312.12 78.80,308.10 88.60,304.07 98.40,300.85 108.20,297.62 118.00,294.46 127.80,291.30 137.60,288.34 147.40,285.38 157.20,282.26 167.00,279.14 176.80,276.38 189.54,272.80" fill="none" stroke="#8ee4f4" stroke-width="1.9" stroke-linejoin="round"/>
<polyline points="49.40,320.30 59.20,314.94 69.00,309.58 78.80,304.31 88.60,299.04 98.40,294.91 108.20,290.79 118.00,286.75 127.80,282.71 137.60,278.96 147.40,275.22 157.20,271.24 167.00,267.26 176.80,263.80 189.54,259.30" fill="none" stroke="#8ee4f4" stroke-width="1.9" stroke-linejoin="round"/>
<polyline points="49.40,320.30 59.20,313.31 69.00,306.32 78.80,299.46 88.60,292.61 98.40,287.59 108.20,282.57 118.00,277.68 127.80,272.80 137.60,268.39 147.40,263.97 157.20,259.19 167.00,254.40 176.80,250.44 189.54,245.30" fill="none" stroke="#9ee88a" stroke-width="1.9" stroke-linejoin="round"/>
<polyline points="49.40,320.30 59.20,311.64 69.00,302.97 78.80,294.50 88.60,286.03 98.40,280.08 108.20,274.12 118.00,268.36 127.80,262.60 137.60,257.49 147.40,252.37 157.20,246.74 167.00,241.11 176.80,236.63 189.54,230.80" fill="none" stroke="#f6e62e" stroke-width="1.9" stroke-linejoin="round"/>
<polyline points="49.40,320.30 59.20,310.11 69.00,299.92 78.80,289.98 88.60,280.04 98.40,273.33 108.20,266.63 118.00,260.17 127.80,253.71 137.60,248.09 147.40,242.46 157.20,236.17 167.00,229.88 176.80,225.06 189.54,218.80" fill="none" stroke="#dc8a30" stroke-width="1.9" stroke-linejoin="round"/>
<polyline points="49.40,320.30 59.20,309.09 69.00,297.87 78.80,286.94 88.60,276.01 98.40,268.78 108.20,261.56 118.00,254.62 127.80,247.68 137.60,241.69 147.40,235.69 157.20,228.94 167.00,222.19 176.80,217.13 189.54,210.55" fill="none" stroke="#c81e1e" stroke-width="1.9" stroke-linejoin="round"/>
<polyline points="49.40,320.30 59.20,307.87 69.00,295.44 78.80,283.36 88.60,271.27 98.40,263.58 108.20,255.90 118.00,248.56 127.80,241.21 137.60,235.00 147.40,228.79 157.20,221.67 167.00,214.55 176.80,209.44 189.54,202.80" fill="none" stroke="#640a0a" stroke-width="1.9" stroke-linejoin="round"/>
<polyline points="49.40,320.30 59.20,307.42 69.00,294.55 78.80,282.02 88.60,269.49 98.40,261.53 108.20,253.57 118.00,245.96 127.80,238.35 137.60,231.91 147.40,225.48 157.20,218.10 167.00,210.73 176.80,205.43 189.54,198.55" fill="none" stroke="#640a0a" stroke-width="1.9" stroke-linejoin="round"/>
<polyline points="49.40,320.30 59.20,306.55 69.00,292.80 78.80,279.43 88.60,266.05 98.40,257.55 108.20,249.05 118.00,240.93 127.80,232.80 137.60,225.93 147.40,219.05 157.20,211.18 167.00,203.30 176.80,197.65 189.54,190.30" fill="none" stroke="#640a0a" stroke-width="1.9" stroke-linejoin="round"/>
<circle cx="88.20" cy="316.3" r="2.4" fill="#0a18d2"/>
<circle cx="88.20" cy="313.8" r="2.4" fill="#3a78e4"/>
<circle cx="88.20" cy="311.3" r="2.4" fill="#8ee4f4"/>
<circle cx="88.20" cy="308.9" r="2.4" fill="#9ee88a"/>
<circle cx="88.20" cy="306.5" r="2.4" fill="#f6e62e"/>
<circle cx="88.20" cy="304.2" r="2.4" fill="#dc8a30"/>
<circle cx="88.20" cy="302.4" r="2.4" fill="#c81e1e"/>
<circle cx="88.20" cy="300" r="2.4" fill="#640a0a"/>
<circle cx="88.20" cy="297.5" r="2.4" fill="#640a0a"/>
<circle cx="88.20" cy="295.2" r="2.4" fill="#640a0a"/>
<circle cx="88.20" cy="288.4" r="2.4" fill="#640a0a"/>
<circle cx="98.10" cy="316.3" r="2.4" fill="#0a18d2"/>
<circle cx="98.10" cy="313.8" r="2.4" fill="#3a78e4"/>
<circle cx="98.10" cy="311.3" r="2.4" fill="#8ee4f4"/>
<circle cx="98.10" cy="308.9" r="2.4" fill="#9ee88a"/>
<circle cx="98.10" cy="306.5" r="2.4" fill="#f6e62e"/>
<circle cx="98.10" cy="304.2" r="2.4" fill="#dc8a30"/>
<circle cx="98.10" cy="302.4" r="2.4" fill="#c81e1e"/>
<circle cx="98.10" cy="299.4" r="2.4" fill="#640a0a"/>
<circle cx="98.10" cy="297" r="2.4" fill="#640a0a"/>
<circle cx="98.10" cy="294.7" r="2.4" fill="#640a0a"/>
<circle cx="98.10" cy="285.7" r="2.4" fill="#640a0a"/>
<circle cx="108.10" cy="316.3" r="2.4" fill="#0a18d2"/>
<circle cx="108.10" cy="313.8" r="2.4" fill="#3a78e4"/>
<circle cx="108.10" cy="311.3" r="2.4" fill="#8ee4f4"/>
<circle cx="108.10" cy="308.9" r="2.4" fill="#9ee88a"/>
<circle cx="108.10" cy="306.5" r="2.4" fill="#f6e62e"/>
<circle cx="108.10" cy="304.2" r="2.4" fill="#dc8a30"/>
<circle cx="108.10" cy="302.4" r="2.4" fill="#c81e1e"/>
<circle cx="108.10" cy="300" r="2.4" fill="#640a0a"/>
<circle cx="108.10" cy="297.5" r="2.4" fill="#640a0a"/>
<circle cx="108.10" cy="295.5" r="2.4" fill="#640a0a"/>
<circle cx="108.10" cy="287.6" r="2.4" fill="#640a0a"/>
<circle cx="117.90" cy="316.3" r="2.4" fill="#0a18d2"/>
<circle cx="117.90" cy="313.8" r="2.4" fill="#3a78e4"/>
<circle cx="117.90" cy="311.3" r="2.4" fill="#8ee4f4"/>
<circle cx="117.90" cy="308.9" r="2.4" fill="#9ee88a"/>
<circle cx="117.90" cy="306.5" r="2.4" fill="#f6e62e"/>
<circle cx="117.90" cy="304.2" r="2.4" fill="#dc8a30"/>
<circle cx="117.90" cy="302.4" r="2.4" fill="#c81e1e"/>
<circle cx="117.90" cy="300.5" r="2.4" fill="#640a0a"/>
<circle cx="117.90" cy="298" r="2.4" fill="#640a0a"/>
<circle cx="117.90" cy="295.5" r="2.4" fill="#640a0a"/>
<circle cx="117.90" cy="286.4" r="2.4" fill="#640a0a"/>
<circle cx="127.60" cy="316.3" r="2.4" fill="#0a18d2"/>
<circle cx="127.60" cy="313.8" r="2.4" fill="#3a78e4"/>
<circle cx="127.60" cy="311.3" r="2.4" fill="#8ee4f4"/>
<circle cx="127.60" cy="308.9" r="2.4" fill="#9ee88a"/>
<circle cx="127.60" cy="306.5" r="2.4" fill="#f6e62e"/>
<circle cx="127.60" cy="304.2" r="2.4" fill="#dc8a30"/>
<circle cx="127.60" cy="302.4" r="2.4" fill="#c81e1e"/>
<circle cx="127.60" cy="300" r="2.4" fill="#640a0a"/>
<circle cx="127.60" cy="297.5" r="2.4" fill="#640a0a"/>
<circle cx="127.60" cy="295.2" r="2.4" fill="#640a0a"/>
<circle cx="127.60" cy="288.4" r="2.4" fill="#640a0a"/>
<circle cx="137.60" cy="316.3" r="2.4" fill="#0a18d2"/>
<circle cx="137.60" cy="313.8" r="2.4" fill="#3a78e4"/>
<circle cx="137.60" cy="311.3" r="2.4" fill="#8ee4f4"/>
<circle cx="137.60" cy="308.9" r="2.4" fill="#9ee88a"/>
<circle cx="137.60" cy="306.5" r="2.4" fill="#f6e62e"/>
<circle cx="137.60" cy="304.2" r="2.4" fill="#c81e1e"/>
<circle cx="137.60" cy="301.5" r="2.4" fill="#c81e1e"/>
<circle cx="137.60" cy="298.7" r="2.4" fill="#640a0a"/>
<circle cx="137.60" cy="296.5" r="2.4" fill="#640a0a"/>
<circle cx="137.60" cy="291.6" r="2.4" fill="#640a0a"/>
<circle cx="137.60" cy="283.7" r="2.4" fill="#640a0a"/>
<circle cx="147.50" cy="316.3" r="2.4" fill="#0a18d2"/>
<circle cx="147.50" cy="313.8" r="2.4" fill="#3a78e4"/>
<circle cx="147.50" cy="311.3" r="2.4" fill="#8ee4f4"/>
<circle cx="147.50" cy="308.9" r="2.4" fill="#9ee88a"/>
<circle cx="147.50" cy="306.5" r="2.4" fill="#f6e62e"/>
<circle cx="147.50" cy="302.6" r="2.4" fill="#dc8a30"/>
<circle cx="147.50" cy="298.7" r="2.4" fill="#640a0a"/>
<circle cx="147.50" cy="295.5" r="2.4" fill="#640a0a"/>
<circle cx="147.50" cy="292.5" r="2.4" fill="#640a0a"/>
<circle cx="147.50" cy="289" r="2.4" fill="#c81e1e"/>
<circle cx="166.80" cy="316.3" r="2.4" fill="#0a18d2"/>
<circle cx="166.80" cy="313.8" r="2.4" fill="#3a78e4"/>
<circle cx="166.80" cy="311.3" r="2.4" fill="#8ee4f4"/>
<circle cx="166.80" cy="308.9" r="2.4" fill="#9ee88a"/>
<circle cx="166.80" cy="306.5" r="2.4" fill="#f6e62e"/>
<circle cx="166.80" cy="303.6" r="2.4" fill="#dc8a30"/>
<circle cx="166.80" cy="300.2" r="2.4" fill="#c81e1e"/>
<circle cx="166.80" cy="297.5" r="2.4" fill="#640a0a"/>
<circle cx="166.80" cy="295.2" r="2.4" fill="#640a0a"/>
<circle cx="166.80" cy="290" r="2.4" fill="#c81e1e"/>
<circle cx="166.80" cy="286.5" r="2.4" fill="#c81e1e"/>
<circle cx="186.90" cy="316.3" r="2.4" fill="#0a18d2"/>
<circle cx="186.90" cy="313.8" r="2.4" fill="#3a78e4"/>
<circle cx="186.90" cy="311.3" r="2.4" fill="#8ee4f4"/>
<circle cx="186.90" cy="308.9" r="2.4" fill="#9ee88a"/>
<circle cx="186.90" cy="306.5" r="2.4" fill="#f6e62e"/>
<circle cx="186.90" cy="303.4" r="2.4" fill="#dc8a30"/>
<circle cx="186.90" cy="301" r="2.4" fill="#c81e1e"/>
<circle cx="186.90" cy="298.7" r="2.4" fill="#640a0a"/>
<circle cx="186.90" cy="296.3" r="2.4" fill="#640a0a"/>
<circle cx="186.90" cy="290" r="2.4" fill="#c81e1e"/>
<circle cx="186.90" cy="281.3" r="2.4" fill="#640a0a"/>
<line x1="58.6" y1="197.8" x2="72.3" y2="197.8" stroke="#c81e1e" stroke-width="1.8"/>
<text x="78.9" y="202.3" font-size="13" text-anchor="start" fill="#111" font-weight="normal" textLength="81" lengthAdjust="spacingAndGlyphs" stroke="#111" stroke-width="0.25">Colony radius</text>
<circle cx="66.2" cy="217.9" r="2.5" fill="#c81e1e"/>
<text x="78.9" y="216.8" font-size="13" text-anchor="start" fill="#111" font-weight="normal" textLength="56.3" lengthAdjust="spacingAndGlyphs" stroke="#111" stroke-width="0.25">Demixing</text>
<text x="78.9" y="227.3" font-size="13" text-anchor="start" fill="#111" font-weight="normal" textLength="49.4" lengthAdjust="spacingAndGlyphs" stroke="#111" stroke-width="0.25">distance</text>
<text x="210" y="189.1" font-size="12" text-anchor="start" fill="#111" font-weight="normal" textLength="46.5" lengthAdjust="spacingAndGlyphs" stroke="#111" stroke-width="0.25">Nutrient</text>
<text x="210" y="200.7" font-size="12" text-anchor="start" fill="#111" font-weight="normal" textLength="64.7" lengthAdjust="spacingAndGlyphs" stroke="#111" stroke-width="0.25">conc. (xLB)</text>
<line x1="208.1" y1="211.50" x2="238" y2="211.50" stroke="#0a18d2" stroke-width="1.8"/>
<text x="244.7" y="215.10" font-size="10" text-anchor="start" fill="#111" font-weight="normal" textLength="25.5" lengthAdjust="spacingAndGlyphs" stroke="#111" stroke-width="0.25">0.025</text>
<line x1="208.1" y1="222.85" x2="238" y2="222.85" stroke="#3a78e4" stroke-width="1.8"/>
<text x="244.7" y="226.45" font-size="10" text-anchor="start" fill="#111" font-weight="normal" textLength="19.5" lengthAdjust="spacingAndGlyphs" stroke="#111" stroke-width="0.25">0.05</text>
<line x1="208.1" y1="234.20" x2="238" y2="234.20" stroke="#8ee4f4" stroke-width="1.8"/>
<text x="244.7" y="237.80" font-size="10" text-anchor="start" fill="#111" font-weight="normal" textLength="25.5" lengthAdjust="spacingAndGlyphs" stroke="#111" stroke-width="0.25">0.075</text>
<line x1="208.1" y1="245.55" x2="238" y2="245.55" stroke="#9ee88a" stroke-width="1.8"/>
<text x="244.7" y="249.15" font-size="10" text-anchor="start" fill="#111" font-weight="normal" textLength="13.2" lengthAdjust="spacingAndGlyphs" stroke="#111" stroke-width="0.25">0.1</text>
<line x1="208.1" y1="256.90" x2="238" y2="256.90" stroke="#f6e62e" stroke-width="1.8"/>
<text x="244.7" y="260.50" font-size="10" text-anchor="start" fill="#111" font-weight="normal" textLength="25.5" lengthAdjust="spacingAndGlyphs" stroke="#111" stroke-width="0.25">0.125</text>
<line x1="208.1" y1="268.25" x2="238" y2="268.25" stroke="#dc8a30" stroke-width="1.8"/>
<text x="244.7" y="271.85" font-size="10" text-anchor="start" fill="#111" font-weight="normal" textLength="19.5" lengthAdjust="spacingAndGlyphs" stroke="#111" stroke-width="0.25">0.15</text>
<line x1="208.1" y1="279.60" x2="238" y2="279.60" stroke="#c81e1e" stroke-width="1.8"/>
<text x="244.7" y="283.20" font-size="10" text-anchor="start" fill="#111" font-weight="normal" textLength="25.5" lengthAdjust="spacingAndGlyphs" stroke="#111" stroke-width="0.25">0.175</text>
<line x1="208.1" y1="290.95" x2="238" y2="290.95" stroke="#640a0a" stroke-width="1.8"/>
<text x="244.7" y="294.55" font-size="10" text-anchor="start" fill="#111" font-weight="normal" textLength="13.2" lengthAdjust="spacingAndGlyphs" stroke="#111" stroke-width="0.25">0.2</text>
<line x1="333.3" y1="320.0" x2="333.3" y2="187.8" stroke="#000" stroke-width="1.2"/>
<path d="M333.3,180.3 L329.7,188.8 L336.90000000000003,188.8 Z" fill="#000"/>
<line x1="333.3" y1="320.0" x2="483.0" y2="320.0" stroke="#000" stroke-width="1.2"/>
<path d="M490.5,320.0 L482.0,316.4 L482.0,323.6 Z" fill="#000"/>
<text x="327.5" y="323.60" font-size="10.2" text-anchor="end" fill="#111" font-weight="normal" textLength="15" lengthAdjust="spacingAndGlyphs" stroke="#111" stroke-width="0.25">0.2</text>
<line x1="333.3" y1="279.20" x2="336.3" y2="279.20" stroke="#000" stroke-width="1"/>
<text x="327.5" y="282.80" font-size="10.2" text-anchor="end" fill="#111" font-weight="normal" textLength="15" lengthAdjust="spacingAndGlyphs" stroke="#111" stroke-width="0.25">0.3</text>
<line x1="333.3" y1="238.40" x2="336.3" y2="238.40" stroke="#000" stroke-width="1"/>
<text x="327.5" y="242.00" font-size="10.2" text-anchor="end" fill="#111" font-weight="normal" textLength="15" lengthAdjust="spacingAndGlyphs" stroke="#111" stroke-width="0.25">0.4</text>
<line x1="333.3" y1="197.60" x2="336.3" y2="197.60" stroke="#000" stroke-width="1"/>
<text x="327.5" y="201.20" font-size="10.2" text-anchor="end" fill="#111" font-weight="normal" textLength="15" lengthAdjust="spacingAndGlyphs" stroke="#111" stroke-width="0.25">0.5</text>
<text x="333.3" y="334.5" font-size="10.2" text-anchor="middle" fill="#111" font-weight="normal" textLength="5.6" lengthAdjust="spacingAndGlyphs" stroke="#111" stroke-width="0.25">0</text>
<line x1="373.3" y1="320.0" x2="373.3" y2="317.0" stroke="#000" stroke-width="1"/>
<text x="373.3" y="334.5" font-size="10.2" text-anchor="middle" fill="#111" font-weight="normal" textLength="5.6" lengthAdjust="spacingAndGlyphs" stroke="#111" stroke-width="0.25">1</text>
<line x1="413.3" y1="320.0" x2="413.3" y2="317.0" stroke="#000" stroke-width="1"/>
<text x="413.3" y="334.5" font-size="10.2" text-anchor="middle" fill="#111" font-weight="normal" textLength="5.6" lengthAdjust="spacingAndGlyphs" stroke="#111" stroke-width="0.25">2</text>
<line x1="453.3" y1="320.0" x2="453.3" y2="317.0" stroke="#000" stroke-width="1"/>
<text x="453.3" y="334.5" font-size="10.2" text-anchor="middle" fill="#111" font-weight="normal" textLength="5.6" lengthAdjust="spacingAndGlyphs" stroke="#111" stroke-width="0.25">3</text>
<text x="301" y="252" font-size="12.4" text-anchor="middle" fill="#111" font-weight="normal" textLength="108" lengthAdjust="spacingAndGlyphs" transform="rotate(-90 301 252)" stroke="#111" stroke-width="0.25">Heterozygosity H</text>
<text x="411.3" y="352.9" font-size="13.4" text-anchor="middle" fill="#111" font-weight="normal" textLength="184" lengthAdjust="spacingAndGlyphs" stroke="#111" stroke-width="0.25">Distance from inoculum x (mm)</text>
<text x="292.3" y="182.3" font-size="15.5" text-anchor="start" fill="#111" font-weight="bold" stroke="#111" stroke-width="0.5">c</text>
<polyline points="333.30,209.84 334.90,212.65 336.50,217.83 338.10,224.96 339.70,233.27 341.30,239.47 342.90,248.25 344.50,254.48 346.10,261.17 347.70,268.54 349.30,273.16 350.90,279.29 352.50,282.88 354.10,287.54 355.70,291.34 357.30,293.11 358.90,293.03 360.50,296.00 362.10,297.95 363.70,297.86 365.30,296.55 366.90,297.12" fill="none" stroke="#0a18d2" stroke-width="1.7" stroke-linejoin="round"/>
<polyline points="333.30,212.70 334.90,216.05 336.50,221.85 338.10,229.17 339.70,234.43 341.30,243.89 342.90,249.21 344.50,256.82 346.10,264.18 347.70,270.66 349.30,275.41 350.90,277.43 352.50,281.94 354.10,283.98 355.70,285.48 357.30,287.84 358.90,288.99 360.50,291.88 362.10,294.09 363.70,295.14 365.30,293.98 366.90,294.12 368.50,294.64 370.10,293.89" fill="none" stroke="#0a18d2" stroke-width="1.7" stroke-linejoin="round"/>
<polyline points="333.30,210.66 334.90,211.47 336.50,215.02 338.10,220.00 339.70,225.98 341.30,232.98 342.90,237.92 344.50,243.53 346.10,250.95 347.70,256.33 349.30,261.58 350.90,264.95 352.50,268.79 354.10,274.07 355.70,275.70 357.30,280.83 358.90,283.78 360.50,284.86 362.10,288.34 363.70,289.73 365.30,292.73 366.90,292.50 368.50,292.01 370.10,292.47 371.70,291.62 373.30,293.30" fill="none" stroke="#0a18d2" stroke-width="1.7" stroke-linejoin="round"/>
<polyline points="333.30,207.80 334.90,207.80 336.50,207.80 338.10,208.24 339.70,210.95 341.30,215.49 342.90,220.56 344.50,227.14 346.10,234.22 347.70,241.86 349.30,247.67 350.90,252.96 352.50,259.95 354.10,265.27 355.70,272.36 357.30,275.52 358.90,278.41 360.50,279.35 362.10,280.85 363.70,284.21 365.30,286.30 366.90,286.68 368.50,289.54 370.10,289.84 371.70,291.19 373.30,292.34 374.90,293.38 376.50,291.20" fill="none" stroke="#3a78e4" stroke-width="1.7" stroke-linejoin="round"/>
<polyline points="333.30,209.02 334.90,209.02 336.50,209.02 338.10,209.52 339.70,212.16 341.30,216.29 342.90,222.96 344.50,229.42 346.10,235.50 347.70,239.74 349.30,247.61 350.90,253.27 352.50,258.19 354.10,261.31 355.70,264.53 357.30,267.30 358.90,272.18 360.50,275.59 362.10,278.60 363.70,278.86 365.30,278.85 366.90,282.18 368.50,284.59 370.10,286.17 371.70,287.32 373.30,287.12 374.90,286.51 376.50,287.33 378.10,288.95 379.70,288.42 381.30,288.17 382.90,287.12 384.50,284.71" fill="none" stroke="#3a78e4" stroke-width="1.7" stroke-linejoin="round"/>
<polyline points="333.30,205.76 334.90,205.76 336.50,205.76 338.10,205.76 339.70,205.76 341.30,205.76 342.90,207.52 344.50,211.00 346.10,215.55 347.70,220.03 349.30,225.89 350.90,231.55 352.50,237.15 354.10,245.37 355.70,249.43 357.30,254.20 358.90,258.49 360.50,263.01 362.10,268.92 363.70,274.09 365.30,279.83 366.90,282.53 368.50,287.38 370.10,291.40 371.70,294.18 373.30,296.74 374.90,298.18 376.50,300.62 378.10,302.82 379.70,303.99 381.30,305.17 382.90,305.07 384.50,306.44 386.10,304.06 387.70,303.37 389.30,304.79 390.90,305.45 392.50,305.58" fill="none" stroke="#8ee4f4" stroke-width="1.7" stroke-linejoin="round"/>
<polyline points="333.30,206.98 334.90,206.98 336.50,206.98 338.10,206.98 339.70,206.98 341.30,208.81 342.90,212.41 344.50,217.08 346.10,223.01 347.70,230.22 349.30,234.34 350.90,238.38 352.50,244.98 354.10,251.13 355.70,258.50 357.30,264.97 358.90,269.72 360.50,274.36 362.10,276.19 363.70,280.83 365.30,285.34 366.90,285.33 368.50,287.36 370.10,290.70 371.70,291.79 373.30,294.89 374.90,295.30 376.50,293.88 378.10,293.37 379.70,293.73 381.30,295.83 382.90,297.01 384.50,298.74 386.10,297.59" fill="none" stroke="#8ee4f4" stroke-width="1.7" stroke-linejoin="round"/>
<polyline points="333.30,206.17 334.90,206.17 336.50,206.17 338.10,206.17 339.70,206.17 341.30,206.17 342.90,206.17 344.50,206.17 346.10,206.17 347.70,206.63 349.30,208.81 350.90,212.05 352.50,216.02 354.10,220.37 355.70,224.11 357.30,230.17 358.90,236.51 360.50,240.16 362.10,243.40 363.70,247.50 365.30,251.80 366.90,255.93 368.50,260.20 370.10,266.29 371.70,270.36 373.30,274.69 374.90,279.82 376.50,284.16 378.10,286.80 379.70,289.23 381.30,289.61 382.90,289.08 384.50,290.99 386.10,290.62 387.70,290.30 389.30,290.34 390.90,292.89 392.50,295.49 394.10,297.50 395.70,299.19 397.30,300.48 398.90,299.78 400.50,298.17 402.10,297.23" fill="none" stroke="#9ee88a" stroke-width="1.7" stroke-linejoin="round"/>
<polyline points="333.30,204.54 334.90,204.54 336.50,204.54 338.10,204.54 339.70,204.54 341.30,204.54 342.90,204.54 344.50,204.54 346.10,205.04 347.70,207.43 349.30,210.96 350.90,215.26 352.50,220.19 354.10,224.73 355.70,229.03 357.30,236.58 358.90,241.21 360.50,244.88 362.10,249.27 363.70,253.71 365.30,259.07 366.90,265.12 368.50,267.89 370.10,272.47 371.70,274.55 373.30,275.90 374.90,279.67 376.50,282.83 378.10,283.28 379.70,284.78 381.30,288.38 382.90,291.43 384.50,293.77 386.10,292.58 387.70,292.18 389.30,294.66 390.90,293.80 392.50,292.59 394.10,293.04 395.70,294.66 397.30,295.10 398.90,297.15 400.50,299.18" fill="none" stroke="#9ee88a" stroke-width="1.7" stroke-linejoin="round"/>
<polyline points="333.30,203.72 334.90,203.72 336.50,203.72 338.10,203.72 339.70,203.72 341.30,203.72 342.90,203.72 344.50,203.72 346.10,203.72 347.70,203.72 349.30,203.72 350.90,204.65 352.50,207.67 354.10,211.35 355.70,215.39 357.30,219.62 358.90,222.01 360.50,226.21 362.10,230.90 363.70,233.75 365.30,238.86 366.90,241.80 368.50,245.02 370.10,250.74 371.70,255.59 373.30,259.76 374.90,263.74 376.50,265.91 378.10,269.43 379.70,271.93 381.30,275.46 382.90,275.37 384.50,277.98 386.10,279.88 387.70,281.14 389.30,281.09 390.90,283.31 392.50,283.21 394.10,285.08 395.70,286.57 397.30,287.93 398.90,291.18 400.50,292.07 402.10,293.93 403.70,296.19 405.30,294.77 406.90,296.37 408.50,296.44 410.10,295.55 411.70,295.66 413.30,296.75 414.90,296.85 416.50,296.84 418.10,295.94 419.70,298.08 421.30,297.88 422.90,299.04 424.50,299.82 426.10,298.42 427.70,298.48 429.30,298.32" fill="none" stroke="#f6e62e" stroke-width="1.7" stroke-linejoin="round"/>
<polyline points="333.30,205.35 334.90,205.35 336.50,205.35 338.10,205.35 339.70,205.35 341.30,205.35 342.90,205.35 344.50,205.35 346.10,205.35 347.70,205.35 349.30,205.35 350.90,205.35 352.50,206.76 354.10,209.62 355.70,212.99 357.30,216.65 358.90,220.47 360.50,223.31 362.10,225.81 363.70,230.55 365.30,234.34 366.90,238.48 368.50,242.39 370.10,245.38 371.70,249.35 373.30,252.70 374.90,256.11 376.50,257.39 378.10,259.94 379.70,261.67 381.30,263.21 382.90,267.64 384.50,270.18 386.10,270.93 387.70,272.30 389.30,276.56 390.90,280.14 392.50,281.83 394.10,284.88 395.70,286.75 397.30,289.07 398.90,288.59 400.50,287.97 402.10,287.23 403.70,289.87 405.30,289.72 406.90,289.97 408.50,292.40 410.10,291.33 411.70,290.28 413.30,292.64 414.90,291.52 416.50,293.01 418.10,293.84 419.70,292.48 421.30,292.17 422.90,294.72 424.50,295.58 426.10,295.93 427.70,296.95 429.30,298.34 430.90,298.91 432.50,297.72 434.10,299.73 435.70,299.07 437.30,299.06" fill="none" stroke="#f6e62e" stroke-width="1.7" stroke-linejoin="round"/>
<polyline points="333.30,202.90 334.90,202.90 336.50,202.90 338.10,202.90 339.70,202.90 341.30,202.90 342.90,202.90 344.50,202.90 346.10,202.90 347.70,202.90 349.30,202.90 350.90,202.90 352.50,202.90 354.10,203.89 355.70,206.73 357.30,210.01 358.90,213.50 360.50,217.10 362.10,220.73 363.70,226.31 365.30,230.08 366.90,232.54 368.50,235.62 370.10,240.52 371.70,241.15 373.30,243.12 374.90,244.49 376.50,249.67 378.10,253.49 379.70,257.83 381.30,258.59 382.90,261.73 384.50,265.12 386.10,266.91 387.70,266.66 389.30,267.25 390.90,270.33 392.50,273.43 394.10,272.93 395.70,274.28 397.30,275.04 398.90,278.36 400.50,281.22 402.10,281.02 403.70,282.16 405.30,284.64 406.90,283.16 408.50,283.45 410.10,283.15 411.70,286.00 413.30,285.12 414.90,287.81 416.50,286.69 418.10,287.53 419.70,288.60 421.30,288.57 422.90,287.06 424.50,288.64 426.10,290.41 427.70,290.14 429.30,291.12 430.90,292.38 432.50,293.13 434.10,294.13 435.70,294.26 437.30,293.90 438.90,293.65 440.50,291.58 442.10,291.93 443.70,291.32 445.30,292.15 446.90,292.05 448.50,293.29" fill="none" stroke="#dc8a30" stroke-width="1.7" stroke-linejoin="round"/>
<polyline points="333.30,202.09 334.90,202.09 336.50,202.09 338.10,202.09 339.70,202.09 341.30,202.09 342.90,202.09 344.50,202.09 346.10,202.09 347.70,202.09 349.30,202.09 350.90,202.09 352.50,202.09 354.10,204.63 355.70,208.02 357.30,211.73 358.90,215.60 360.50,219.52 362.10,224.47 363.70,230.07 365.30,232.25 366.90,235.48 368.50,240.19 370.10,243.34 371.70,244.57 373.30,249.57 374.90,251.07 376.50,254.40 378.10,257.23 379.70,258.52 381.30,261.82 382.90,264.32 384.50,265.92 386.10,266.34 387.70,269.68 389.30,270.56 390.90,272.09 392.50,273.85 394.10,276.42 395.70,278.87 397.30,282.17 398.90,284.59 400.50,286.87 402.10,286.06 403.70,287.64 405.30,289.37 406.90,291.17 408.50,289.59 410.10,288.42 411.70,288.50 413.30,290.27 414.90,291.88 416.50,292.98 418.10,293.22 419.70,294.73 421.30,294.76 422.90,295.61 424.50,293.46 426.10,291.88 427.70,292.48 429.30,294.22 430.90,292.63 432.50,294.17 434.10,295.17" fill="none" stroke="#dc8a30" stroke-width="1.7" stroke-linejoin="round"/>
<polyline points="333.30,199.64 334.90,199.64 336.50,199.64 338.10,199.64 339.70,199.64 341.30,199.64 342.90,199.64 344.50,199.64 346.10,199.64 347.70,199.64 349.30,199.64 350.90,199.64 352.50,199.64 354.10,199.64 355.70,200.39 357.30,203.96 358.90,207.74 360.50,211.54 362.10,215.32 363.70,219.03 365.30,222.66 366.90,228.22 368.50,231.63 370.10,234.55 371.70,237.36 373.30,241.38 374.90,243.83 376.50,248.34 378.10,251.28 379.70,254.79 381.30,256.71 382.90,260.16 384.50,263.34 386.10,265.07 387.70,267.13 389.30,267.68 390.90,268.77 392.50,269.09 394.10,270.10 395.70,271.00 397.30,271.37 398.90,273.99 400.50,276.54 402.10,276.08 403.70,279.44 405.30,279.90 406.90,280.85 408.50,284.26 410.10,283.84 411.70,283.53 413.30,284.59 414.90,285.17 416.50,285.49 418.10,288.67 419.70,289.67 421.30,290.67 422.90,290.24 424.50,290.20 426.10,290.23 427.70,291.39 429.30,291.13 430.90,291.93 432.50,292.60 434.10,295.12 435.70,297.93 437.30,299.72 438.90,300.24 440.50,301.77 442.10,300.03 443.70,299.94 445.30,299.67 446.90,299.55 448.50,299.32 450.10,299.99 451.70,302.54 453.30,301.28 454.90,300.60 456.50,301.14 458.10,301.47 459.70,301.27 461.30,303.58 462.90,302.63 464.50,303.93" fill="none" stroke="#c81e1e" stroke-width="1.7" stroke-linejoin="round"/>
<polyline points="333.30,201.68 334.90,201.68 336.50,201.68 338.10,201.68 339.70,201.68 341.30,201.68 342.90,201.68 344.50,201.68 346.10,201.68 347.70,201.68 349.30,201.68 350.90,201.68 352.50,201.68 354.10,201.68 355.70,202.27 357.30,205.35 358.90,208.77 360.50,212.30 362.10,215.86 363.70,219.40 365.30,222.89 366.90,228.05 368.50,231.92 370.10,233.68 371.70,237.85 373.30,239.49 374.90,240.43 376.50,243.73 378.10,247.27 379.70,250.11 381.30,251.97 382.90,253.56 384.50,255.88 386.10,258.00 387.70,262.36 389.30,265.79 390.90,268.35 392.50,268.69 394.10,271.11 395.70,272.22 397.30,275.66 398.90,278.39 400.50,279.89 402.10,279.68 403.70,279.72 405.30,280.09 406.90,282.19 408.50,283.09 410.10,284.21 411.70,285.26 413.30,287.68 414.90,286.53 416.50,288.68 418.10,287.30 419.70,286.60 421.30,289.98 422.90,290.87 424.50,290.20 426.10,289.23 427.70,290.75 429.30,292.74 430.90,294.59 432.50,293.09 434.10,295.06 435.70,295.12 437.30,297.05 438.90,297.02 440.50,295.33 442.10,297.39 443.70,296.07 445.30,296.37 446.90,295.06 448.50,294.84 450.10,296.60 451.70,295.21 453.30,295.85 454.90,298.20 456.50,300.05 458.10,299.43 459.70,299.13 461.30,299.49 462.90,300.41 464.50,300.25 466.10,300.22 467.70,298.04 469.30,299.81 470.90,298.05 472.50,296.34" fill="none" stroke="#c81e1e" stroke-width="1.7" stroke-linejoin="round"/>
<polyline points="333.30,200.86 334.90,200.86 336.50,200.86 338.10,200.86 339.70,200.86 341.30,200.86 342.90,200.86 344.50,200.86 346.10,200.86 347.70,200.86 349.30,200.86 350.90,200.86 352.50,200.86 354.10,200.86 355.70,204.42 357.30,208.34 358.90,212.31 360.50,216.24 362.10,220.10 363.70,223.87 365.30,229.08 366.90,230.50 368.50,233.20 370.10,235.19 371.70,239.88 373.30,243.73 374.90,247.18 376.50,247.91 378.10,250.71 379.70,254.31 381.30,257.27 382.90,260.62 384.50,264.54 386.10,267.73 387.70,267.58 389.30,270.12 390.90,269.78 392.50,272.70 394.10,275.19 395.70,276.40 397.30,278.94 398.90,280.42 400.50,279.44 402.10,279.28 403.70,279.73 405.30,281.05 406.90,281.14 408.50,281.32 410.10,283.27 411.70,284.24 413.30,287.90 414.90,288.04 416.50,289.48 418.10,289.49 419.70,290.09 421.30,292.16 422.90,294.82 424.50,293.37 426.10,295.67 427.70,296.11 429.30,297.08 430.90,298.10 432.50,297.17 434.10,295.60 435.70,297.43 437.30,297.28 438.90,298.70 440.50,298.80 442.10,299.61 443.70,301.21 445.30,302.50 446.90,303.35 448.50,301.19 450.10,301.29 451.70,302.56 453.30,300.75 454.90,299.08 456.50,300.10" fill="none" stroke="#c81e1e" stroke-width="1.7" stroke-linejoin="round"/>
<polyline points="333.30,196.38 334.90,196.38 336.50,196.38 338.10,196.38 339.70,196.38 341.30,196.38 342.90,196.38 344.50,196.38 346.10,196.38 347.70,196.38 349.30,196.38 350.90,196.38 352.50,196.38 354.10,196.38 355.70,196.63 357.30,198.38 358.90,200.64 360.50,203.16 362.10,205.87 363.70,208.70 365.30,211.60 366.90,214.56 368.50,219.01 370.10,222.89 371.70,226.95 373.30,229.70 374.90,233.49 376.50,236.43 378.10,239.23 379.70,240.71 381.30,241.17 382.90,242.70 384.50,245.82 386.10,248.74 387.70,251.04 389.30,253.92 390.90,256.75 392.50,260.52 394.10,262.95 395.70,262.43 397.30,265.92 398.90,267.44 400.50,268.47 402.10,268.70 403.70,271.89 405.30,274.43 406.90,276.77 408.50,278.25 410.10,279.49 411.70,278.66 413.30,278.76 414.90,279.01 416.50,282.94 418.10,286.09 419.70,285.94 421.30,285.30 422.90,286.75 424.50,287.59 426.10,290.81 427.70,291.82 429.30,290.57 430.90,290.22 432.50,289.99 434.10,289.49 435.70,292.22 437.30,294.97 438.90,296.98 440.50,297.10 442.10,296.66 443.70,295.39 445.30,295.43 446.90,295.14 448.50,294.37 450.10,294.95 451.70,294.91 453.30,296.86 454.90,295.19 456.50,296.07 458.10,293.82 459.70,293.13 461.30,293.88 462.90,295.04 464.50,295.28 466.10,293.76 467.70,292.23 469.30,293.35 470.90,294.21 472.50,292.87 474.10,291.48 475.70,291.09 477.30,291.31" fill="none" stroke="#640a0a" stroke-width="1.7" stroke-linejoin="round"/>
<polyline points="333.30,197.60 334.90,197.60 336.50,197.60 338.10,197.60 339.70,197.60 341.30,197.60 342.90,197.60 344.50,197.60 346.10,197.60 347.70,197.60 349.30,197.60 350.90,197.60 352.50,197.60 354.10,197.60 355.70,197.60 357.30,197.60 358.90,198.94 360.50,200.87 362.10,203.07 363.70,205.46 365.30,207.97 366.90,210.57 368.50,213.23 370.10,215.92 371.70,218.22 373.30,223.03 374.90,226.13 376.50,228.46 378.10,228.82 379.70,231.00 381.30,232.28 382.90,235.51 384.50,239.51 386.10,243.03 387.70,243.31 389.30,245.11 390.90,248.60 392.50,252.89 394.10,254.66 395.70,255.75 397.30,258.06 398.90,260.90 400.50,261.79 402.10,261.82 403.70,265.09 405.30,268.71 406.90,270.55 408.50,271.96 410.10,272.28 411.70,274.83 413.30,274.61 414.90,274.98 416.50,276.51 418.10,279.15 419.70,278.28 421.30,280.56 422.90,280.45 424.50,282.99 426.10,285.16 427.70,284.80 429.30,286.64 430.90,285.52 432.50,286.73 434.10,289.07 435.70,290.85 437.30,291.55 438.90,291.22 440.50,289.95 442.10,292.41 443.70,293.38 445.30,294.97 446.90,293.18 448.50,295.34 450.10,297.43 451.70,299.07 453.30,299.03 454.90,297.04 456.50,295.68 458.10,295.37 459.70,294.13 461.30,293.54 462.90,295.63 464.50,297.84 466.10,296.51 467.70,296.34 469.30,299.18 470.90,298.79 472.50,299.70 474.10,300.46 475.70,301.24 477.30,302.54 478.90,304.22 480.50,304.40" fill="none" stroke="#640a0a" stroke-width="1.7" stroke-linejoin="round"/>
<polyline points="333.30,198.82 334.90,198.82 336.50,198.82 338.10,198.82 339.70,198.82 341.30,198.82 342.90,198.82 344.50,198.82 346.10,198.82 347.70,198.82 349.30,198.82 350.90,198.82 352.50,198.82 354.10,198.82 355.70,199.17 357.30,201.35 358.90,204.02 360.50,206.94 362.10,210.00 363.70,213.15 365.30,216.34 366.90,219.55 368.50,223.36 370.10,224.52 371.70,229.55 373.30,230.62 374.90,235.23 376.50,238.77 378.10,240.21 379.70,241.93 381.30,245.44 382.90,250.24 384.50,252.70 386.10,255.52 387.70,255.94 389.30,259.75 390.90,262.40 392.50,262.70 394.10,266.92 395.70,268.98 397.30,269.31 398.90,270.14 400.50,274.12 402.10,277.49 403.70,280.26 405.30,279.18 406.90,281.40 408.50,281.36 410.10,281.01 411.70,283.31 413.30,285.57 414.90,284.72 416.50,285.71 418.10,288.13 419.70,288.31 421.30,290.27 422.90,292.11 424.50,294.78 426.10,293.90 427.70,292.74 429.30,293.18 430.90,292.40 432.50,295.70 434.10,297.46 435.70,297.91 437.30,296.41 438.90,295.41 440.50,297.08 442.10,298.98 443.70,299.78 445.30,300.20 446.90,298.83 448.50,300.92 450.10,300.04 451.70,299.71 453.30,299.18 454.90,299.06 456.50,299.70 458.10,301.37 459.70,302.71 461.30,303.60 462.90,302.59 464.50,304.75 466.10,305.92 467.70,304.58 469.30,305.67" fill="none" stroke="#640a0a" stroke-width="1.7" stroke-linejoin="round"/>
<line x1="421.3" y1="244.7" x2="421.3" y2="187.8" stroke="#000" stroke-width="1.1"/>
<path d="M421.3,181.3 L418.1,188.8 L424.5,188.8 Z" fill="#000"/>
<line x1="421.3" y1="244.7" x2="483.7" y2="244.7" stroke="#000" stroke-width="1.1"/>
<path d="M490.2,244.7 L482.7,241.5 L482.7,247.89999999999998 Z" fill="#000"/>
<line x1="421.3" y1="205.1" x2="424.3" y2="205.1" stroke="#000" stroke-width="1"/>
<line x1="435.30" y1="244.7" x2="435.30" y2="242.89999999999998" stroke="#666" stroke-width="0.7"/>
<line x1="450.10" y1="244.7" x2="450.10" y2="242.89999999999998" stroke="#666" stroke-width="0.7"/>
<line x1="465.00" y1="244.7" x2="465.00" y2="242.89999999999998" stroke="#666" stroke-width="0.7"/>
<line x1="479.80" y1="244.7" x2="479.80" y2="242.89999999999998" stroke="#666" stroke-width="0.7"/>
<text x="416.5" y="208.6" font-size="10.2" text-anchor="end" fill="#111" font-weight="normal" stroke="#111" stroke-width="0.25">1</text>
<text x="415" y="249.5" font-size="10.2" text-anchor="end" fill="#111" font-weight="normal" stroke="#111" stroke-width="0.25">0</text>
<text x="404.8" y="216.5" font-size="11.6" text-anchor="middle" fill="#111" font-weight="normal" textLength="85" lengthAdjust="spacingAndGlyphs" transform="rotate(-90 404.8 216.5)" stroke="#111" stroke-width="0.25">Demix dist (mm)</text>
<text x="456.5" y="256.5" font-size="11.6" text-anchor="middle" fill="#111" font-weight="normal" textLength="72.8" lengthAdjust="spacingAndGlyphs" stroke="#111" stroke-width="0.25">Nutrient conc.</text>
<circle cx="428" cy="236.4" r="2.4" fill="#0a18d2"/>
<circle cx="428" cy="240.2" r="2.4" fill="#0a18d2"/>
<circle cx="435.6" cy="236.4" r="2.4" fill="#3a78e4"/>
<circle cx="442.6" cy="231.4" r="2.4" fill="#8ee4f4"/>
<circle cx="442.6" cy="233.9" r="2.4" fill="#8ee4f4"/>
<circle cx="442.6" cy="236.4" r="2.4" fill="#8ee4f4"/>
<circle cx="449.6" cy="225.1" r="2.4" fill="#9ee88a"/>
<circle cx="449.6" cy="230.1" r="2.4" fill="#9ee88a"/>
<circle cx="457.2" cy="220.5" r="2.4" fill="#f6e62e"/>
<circle cx="457.2" cy="223" r="2.4" fill="#f6e62e"/>
<circle cx="457.2" cy="224.5" r="2.4" fill="#f6e62e"/>
<circle cx="464.2" cy="218.4" r="2.4" fill="#dc8a30"/>
<circle cx="471.5" cy="195" r="2.4" fill="#c81e1e"/>
<circle cx="471.5" cy="201.3" r="2.4" fill="#c81e1e"/>
<circle cx="471.5" cy="215.1" r="2.4" fill="#c81e1e"/>
<circle cx="478.5" cy="191.3" r="2.4" fill="#640a0a"/>
<circle cx="478.5" cy="207.6" r="2.4" fill="#640a0a"/>
<circle cx="478.5" cy="210.1" r="2.4" fill="#640a0a"/>
<line x1="563.8" y1="320.0" x2="563.8" y2="187.8" stroke="#000" stroke-width="1.2"/>
<path d="M563.8,180.3 L560.1999999999999,188.8 L567.4,188.8 Z" fill="#000"/>
<line x1="563.8" y1="320.0" x2="712.8" y2="320.0" stroke="#000" stroke-width="1.2"/>
<path d="M720.3,320.0 L711.8,316.4 L711.8,323.6 Z" fill="#000"/>
<text x="557.8" y="323.60" font-size="10.2" text-anchor="end" fill="#111" font-weight="normal" textLength="15" lengthAdjust="spacingAndGlyphs" stroke="#111" stroke-width="0.25">0.2</text>
<line x1="563.8" y1="279.20" x2="566.8" y2="279.20" stroke="#000" stroke-width="1"/>
<text x="557.8" y="282.80" font-size="10.2" text-anchor="end" fill="#111" font-weight="normal" textLength="15" lengthAdjust="spacingAndGlyphs" stroke="#111" stroke-width="0.25">0.3</text>
<line x1="563.8" y1="238.40" x2="566.8" y2="238.40" stroke="#000" stroke-width="1"/>
<text x="557.8" y="242.00" font-size="10.2" text-anchor="end" fill="#111" font-weight="normal" textLength="15" lengthAdjust="spacingAndGlyphs" stroke="#111" stroke-width="0.25">0.4</text>
<line x1="563.8" y1="197.60" x2="566.8" y2="197.60" stroke="#000" stroke-width="1"/>
<text x="557.8" y="201.20" font-size="10.2" text-anchor="end" fill="#111" font-weight="normal" textLength="15" lengthAdjust="spacingAndGlyphs" stroke="#111" stroke-width="0.25">0.5</text>
<text x="563.80" y="334.5" font-size="10.2" text-anchor="middle" fill="#111" font-weight="normal" textLength="5.6" lengthAdjust="spacingAndGlyphs" stroke="#111" stroke-width="0.25">0</text>
<line x1="620.0" y1="320.0" x2="620.0" y2="317.0" stroke="#000" stroke-width="1"/>
<text x="620.00" y="334.5" font-size="10.2" text-anchor="middle" fill="#111" font-weight="normal" textLength="17.5" lengthAdjust="spacingAndGlyphs" stroke="#111" stroke-width="0.25">100</text>
<line x1="676.1999999999999" y1="320.0" x2="676.1999999999999" y2="317.0" stroke="#000" stroke-width="1"/>
<text x="676.20" y="334.5" font-size="10.2" text-anchor="middle" fill="#111" font-weight="normal" textLength="17.5" lengthAdjust="spacingAndGlyphs" stroke="#111" stroke-width="0.25">200</text>
<text x="531" y="252" font-size="12.4" text-anchor="middle" fill="#111" font-weight="normal" textLength="108" lengthAdjust="spacingAndGlyphs" transform="rotate(-90 531 252)" stroke="#111" stroke-width="0.25">Heterozygosity H</text>
<text x="641.6" y="352.9" font-size="13.4" text-anchor="middle" fill="#111" font-weight="normal" textLength="55.2" lengthAdjust="spacingAndGlyphs" stroke="#111" stroke-width="0.25">Time t (h)</text>
<text x="521.5" y="182.3" font-size="15.5" text-anchor="start" fill="#111" font-weight="bold" stroke="#111" stroke-width="0.5">d</text>
<polyline points="563.80,209.84 566.04,212.96 568.28,217.32 570.52,222.13 572.76,228.87 575.00,235.31 577.24,239.18 579.48,244.06 581.72,246.04 583.96,248.81 586.20,251.28 588.44,256.83 590.68,262.41 592.92,267.16 595.16,269.63 597.40,271.13 599.64,273.78 601.88,277.03 604.12,279.09 606.36,280.13 608.60,280.97 610.84,281.56 613.08,281.82 615.32,282.97 617.56,286.22 619.80,285.88 622.04,287.99 624.28,288.58 626.52,289.92 628.76,289.54 631.00,291.52 633.24,292.89 635.48,293.98 637.72,295.23 639.96,293.24 642.20,293.03 644.44,293.94 646.68,294.36" fill="none" stroke="#0a18d2" stroke-width="1.7" stroke-linejoin="round"/>
<polyline points="563.80,211.88 566.04,215.14 568.28,219.66 570.52,224.61 572.76,227.68 575.00,233.20 577.24,239.59 579.48,243.05 581.72,247.21 583.96,249.78 586.20,256.10 588.44,260.00 590.68,262.13 592.92,264.18 595.16,265.90 597.40,271.19 599.64,274.50 601.88,278.04 604.12,280.70 606.36,279.76 608.60,280.87 610.84,280.49 613.08,282.66 615.32,282.42 617.56,284.07 619.80,286.20 622.04,285.78 624.28,284.87 626.52,287.68 628.76,287.86 631.00,287.95 633.24,289.71 635.48,290.45" fill="none" stroke="#0a18d2" stroke-width="1.7" stroke-linejoin="round"/>
<polyline points="563.80,207.80 566.04,207.80 568.28,207.80 570.52,208.52 572.76,211.47 575.00,215.47 577.24,221.53 579.48,227.29 581.72,232.76 583.96,236.70 586.20,240.55 588.44,246.28 590.68,252.25 592.92,256.22 595.16,258.45 597.40,262.73 599.64,265.94 601.88,269.22 604.12,269.64 606.36,271.27 608.60,274.73 610.84,277.39 613.08,278.36 615.32,278.60 617.56,278.54 619.80,280.83 622.04,282.32 624.28,281.34 626.52,281.82 628.76,282.73 631.00,283.35 633.24,281.20 635.48,282.22 637.72,281.97 639.96,282.64 642.20,282.91 644.44,281.30 646.68,279.55 648.92,280.82 651.16,282.46 653.40,281.53 655.64,282.97 657.88,284.85 660.12,282.62 662.36,282.89 664.60,281.47 666.84,282.10 669.08,280.63 671.32,281.25 673.56,282.93 675.80,284.79 678.04,284.00 680.28,283.04" fill="none" stroke="#3a78e4" stroke-width="1.7" stroke-linejoin="round"/>
<polyline points="563.80,209.02 566.04,209.02 568.28,209.02 570.52,209.65 572.76,212.25 575.00,215.80 577.24,219.92 579.48,222.73 581.72,229.48 583.96,233.59 586.20,238.84 588.44,243.27 590.68,249.02 592.92,253.65 595.16,256.93 597.40,258.45 599.64,263.55 601.88,266.38 604.12,267.71 606.36,268.47 608.60,272.56 610.84,276.24 613.08,275.94 615.32,275.83 617.56,277.96 619.80,281.48 622.04,280.71 624.28,282.45 626.52,281.76 628.76,282.48 631.00,282.26 633.24,284.87 635.48,284.32 637.72,286.25 639.96,286.98 642.20,285.76 644.44,284.93 646.68,286.97 648.92,288.36 651.16,288.68 653.40,288.45 655.64,288.83 657.88,290.18 660.12,290.70 662.36,289.14 664.60,287.27 666.84,289.36" fill="none" stroke="#3a78e4" stroke-width="1.7" stroke-linejoin="round"/>
<polyline points="563.80,206.58 566.04,206.58 568.28,206.58 570.52,206.58 572.76,206.91 575.00,209.68 577.24,213.49 579.48,217.82 581.72,222.18 583.96,225.92 586.20,232.86 588.44,235.91 590.68,242.17 592.92,245.84 595.16,249.68 597.40,253.03 599.64,257.59 601.88,261.19 604.12,263.83 606.36,266.98 608.60,268.87 610.84,271.57 613.08,274.02 615.32,277.88 617.56,278.64 619.80,280.00 622.04,282.29 624.28,282.05 626.52,281.98 628.76,283.39 631.00,285.72 633.24,286.38 635.48,288.47 637.72,290.04 639.96,290.05 642.20,291.51 644.44,291.23 646.68,290.79 648.92,292.41 651.16,291.23 653.40,292.63 655.64,291.05 657.88,289.71 660.12,289.80 662.36,291.75 664.60,291.39 666.84,291.65 669.08,289.51 671.32,291.24 673.56,289.60 675.80,287.81" fill="none" stroke="#8ee4f4" stroke-width="1.7" stroke-linejoin="round"/>
<polyline points="563.80,205.76 566.04,205.76 568.28,205.76 570.52,205.76 572.76,206.60 575.00,209.62 577.24,213.47 579.48,217.77 581.72,221.38 583.96,225.01 586.20,231.44 588.44,234.15 590.68,239.22 592.92,242.09 595.16,245.30 597.40,251.59 599.64,254.52 601.88,256.83 604.12,262.72 606.36,266.54 608.60,268.26 610.84,272.46 613.08,273.01 615.32,276.34 617.56,276.96 619.80,280.46 622.04,281.89 624.28,281.49 626.52,284.30 628.76,286.37 631.00,287.08 633.24,288.53 635.48,290.88 637.72,292.16 639.96,293.30 642.20,291.07 644.44,290.52 646.68,289.29 648.92,291.38 651.16,290.48 653.40,292.57 655.64,292.49 657.88,292.02 660.12,292.82 662.36,291.35 664.60,291.56 666.84,291.63 669.08,290.46" fill="none" stroke="#8ee4f4" stroke-width="1.7" stroke-linejoin="round"/>
<polyline points="563.80,205.76 566.04,205.76 568.28,205.76 570.52,205.76 572.76,205.76 575.00,205.76 577.24,207.97 579.48,211.47 581.72,215.58 583.96,220.03 586.20,226.27 588.44,228.54 590.68,232.88 592.92,238.16 595.16,241.47 597.40,247.05 599.64,249.14 601.88,253.17 604.12,257.81 606.36,260.29 608.60,264.07 610.84,268.52 613.08,270.04 615.32,274.46 617.56,275.02 619.80,278.10 622.04,279.15 624.28,278.81 626.52,280.43 628.76,281.55 631.00,284.01 633.24,287.30 635.48,289.78 637.72,291.30 639.96,290.66 642.20,291.02 644.44,291.05 646.68,289.59 648.92,291.67 651.16,292.90 653.40,292.14 655.64,294.18 657.88,295.83 660.12,295.66 662.36,296.57 664.60,296.25 666.84,296.58 669.08,295.37 671.32,294.46 673.56,295.36 675.80,294.33" fill="none" stroke="#9ee88a" stroke-width="1.7" stroke-linejoin="round"/>
<polyline points="563.80,203.72 566.04,203.72 568.28,203.72 570.52,203.72 572.76,203.72 575.00,204.56 577.24,207.56 579.48,211.41 581.72,215.72 583.96,220.40 586.20,226.57 588.44,229.13 590.68,235.01 592.92,240.88 595.16,246.50 597.40,249.42 599.64,251.53 601.88,254.27 604.12,258.61 606.36,263.09 608.60,268.10 610.84,269.83 613.08,271.96 615.32,274.89 617.56,276.29 619.80,278.53 622.04,278.53 624.28,279.66 626.52,282.75 628.76,282.63 631.00,286.26 633.24,287.17 635.48,288.54 637.72,290.39 639.96,292.64 642.20,291.49 644.44,293.86 646.68,293.53 648.92,291.76 651.16,293.75 653.40,295.08 655.64,294.45 657.88,294.43 660.12,293.91 662.36,292.85 664.60,294.68 666.84,295.53 669.08,296.23 671.32,297.80 673.56,295.56 675.80,294.32 678.04,293.68" fill="none" stroke="#9ee88a" stroke-width="1.7" stroke-linejoin="round"/>
<polyline points="563.80,202.90 566.04,202.90 568.28,202.90 570.52,202.90 572.76,202.90 575.00,202.90 577.24,202.90 579.48,205.41 581.72,209.16 583.96,213.45 586.20,218.02 588.44,224.74 590.68,227.55 592.92,231.19 595.16,236.13 597.40,239.69 599.64,244.46 601.88,249.82 604.12,255.13 606.36,259.33 608.60,263.93 610.84,266.80 613.08,267.82 615.32,269.32 617.56,270.30 619.80,272.01 622.04,275.49 624.28,277.28 626.52,279.41 628.76,279.86 631.00,281.52 633.24,284.05 635.48,284.61 637.72,283.90 639.96,286.57 642.20,286.02 644.44,289.25 646.68,290.80 648.92,292.15 651.16,291.18 653.40,289.71 655.64,289.49 657.88,291.10 660.12,290.09 662.36,291.64 664.60,293.20 666.84,291.68 669.08,291.71 671.32,291.50 673.56,291.47 675.80,290.20 678.04,291.34 680.28,290.70 682.52,290.81" fill="none" stroke="#f6e62e" stroke-width="1.7" stroke-linejoin="round"/>
<polyline points="563.80,204.54 566.04,204.54 568.28,204.54 570.52,204.54 572.76,204.54 575.00,204.54 577.24,205.47 579.48,208.60 581.72,212.46 583.96,216.71 586.20,221.16 588.44,224.24 590.68,229.40 592.92,233.18 595.16,237.65 597.40,243.04 599.64,248.36 601.88,251.51 604.12,256.88 606.36,258.22 608.60,263.02 610.84,267.72 613.08,271.49 615.32,271.47 617.56,274.32 619.80,277.72 622.04,281.13 624.28,284.00 626.52,283.82 628.76,284.22 631.00,284.53 633.24,284.84 635.48,288.03 637.72,288.48 639.96,289.92 642.20,289.30 644.44,288.97 646.68,288.56 648.92,291.73 651.16,290.93 653.40,290.24 655.64,289.67 657.88,292.74 660.12,294.49 662.36,295.99 664.60,297.37 666.84,295.04 669.08,293.36 671.32,292.77 673.56,291.47 675.80,291.21 678.04,292.34 680.28,293.87" fill="none" stroke="#f6e62e" stroke-width="1.7" stroke-linejoin="round"/>
<polyline points="563.80,201.68 566.04,201.68 568.28,201.68 570.52,201.68 572.76,201.68 575.00,201.68 577.24,201.68 579.48,202.17 581.72,205.56 583.96,209.82 586.20,214.46 588.44,219.28 590.68,225.78 592.92,229.14 595.16,235.02 597.40,240.00 599.64,244.27 601.88,250.02 604.12,254.21 606.36,258.03 608.60,259.84 610.84,263.29 613.08,266.68 615.32,267.16 617.56,269.91 619.80,271.04 622.04,273.26 624.28,277.72 626.52,279.86 628.76,281.69 631.00,281.99 633.24,284.22 635.48,284.68 637.72,285.92 639.96,288.35 642.20,287.73 644.44,290.56 646.68,289.85 648.92,292.10 651.16,294.59 653.40,295.75 655.64,294.42 657.88,292.62 660.12,295.32 662.36,295.42 664.60,295.56 666.84,294.46 669.08,296.19 671.32,296.25 673.56,296.94 675.80,295.51 678.04,296.80 680.28,295.00 682.52,296.37" fill="none" stroke="#dc8a30" stroke-width="1.7" stroke-linejoin="round"/>
<polyline points="563.80,202.50 566.04,202.50 568.28,202.50 570.52,202.50 572.76,202.50 575.00,202.50 577.24,202.50 579.48,203.58 581.72,206.95 583.96,210.95 586.20,215.26 588.44,219.71 590.68,225.36 592.92,228.70 595.16,233.06 597.40,238.88 599.64,242.00 601.88,247.47 604.12,249.48 606.36,252.10 608.60,254.39 610.84,257.41 613.08,261.37 615.32,264.71 617.56,267.75 619.80,268.48 622.04,272.74 624.28,273.05 626.52,277.17 628.76,279.85 631.00,281.93 633.24,281.17 635.48,282.48 637.72,284.18 639.96,283.61 642.20,286.02 644.44,287.08 646.68,287.73 648.92,287.45 651.16,287.37 653.40,287.86 655.64,289.55 657.88,290.99 660.12,292.85 662.36,291.52 664.60,291.32 666.84,290.91 669.08,292.99 671.32,293.50 673.56,292.55 675.80,292.68 678.04,294.65 680.28,294.79 682.52,293.20 684.76,294.67 687.00,295.98" fill="none" stroke="#dc8a30" stroke-width="1.7" stroke-linejoin="round"/>
<polyline points="563.80,199.64 566.04,199.64 568.28,199.64 570.52,199.64 572.76,199.64 575.00,199.64 577.24,199.64 579.48,199.64 581.72,201.11 583.96,205.33 586.20,210.15 588.44,215.22 590.68,220.35 592.92,226.28 595.16,230.26 597.40,233.78 599.64,240.28 601.88,246.13 604.12,251.05 606.36,255.27 608.60,258.44 610.84,263.03 613.08,266.47 615.32,270.26 617.56,270.48 619.80,272.19 622.04,276.54 624.28,276.75 626.52,280.84 628.76,283.14 631.00,282.78 633.24,283.61 635.48,284.78 637.72,287.15 639.96,290.15 642.20,290.83 644.44,293.71 646.68,295.65 648.92,296.54 651.16,298.80 653.40,299.15 655.64,297.94 657.88,297.55 660.12,298.15 662.36,298.16 664.60,298.94 666.84,300.91 669.08,300.57 671.32,301.20 673.56,300.35 675.80,299.08 678.04,300.13 680.28,300.37 682.52,299.87 684.76,300.87 687.00,302.43" fill="none" stroke="#c81e1e" stroke-width="1.7" stroke-linejoin="round"/>
<polyline points="563.80,200.86 566.04,200.86 568.28,200.86 570.52,200.86 572.76,200.86 575.00,200.86 577.24,200.86 579.48,200.86 581.72,202.21 583.96,206.06 586.20,210.47 588.44,215.12 590.68,219.86 592.92,223.68 595.16,227.02 597.40,231.00 599.64,235.28 601.88,238.80 604.12,243.02 606.36,247.16 608.60,251.81 610.84,256.59 613.08,259.56 615.32,264.58 617.56,267.62 619.80,268.95 622.04,270.74 624.28,272.89 626.52,276.48 628.76,278.86 631.00,280.88 633.24,282.06 635.48,284.11 637.72,284.86 639.96,284.64 642.20,287.76 644.44,288.40 646.68,288.58 648.92,290.48 651.16,291.67 653.40,290.73 655.64,293.99 657.88,294.51 660.12,296.57 662.36,295.69 664.60,294.17 666.84,294.45 669.08,296.30 671.32,295.67 673.56,295.25 675.80,294.12 678.04,294.01 680.28,293.31 682.52,291.90 684.76,291.98" fill="none" stroke="#c81e1e" stroke-width="1.7" stroke-linejoin="round"/>
<polyline points="563.80,196.38 566.04,196.38 568.28,196.38 570.52,196.38 572.76,196.38 575.00,196.38 577.24,196.38 579.48,196.38 581.72,196.38 583.96,199.74 586.20,204.21 588.44,209.06 590.68,214.06 592.92,219.46 595.16,222.52 597.40,228.96 599.64,232.94 601.88,238.12 604.12,241.44 606.36,247.43 608.60,249.25 610.84,253.95 613.08,259.42 615.32,263.32 617.56,266.35 619.80,270.79 622.04,273.00 624.28,275.15 626.52,276.09 628.76,278.63 631.00,281.29 633.24,283.80 635.48,283.91 637.72,283.49 639.96,285.14 642.20,287.88 644.44,287.80 646.68,289.62 648.92,291.92 651.16,294.15 653.40,293.35 655.64,292.77 657.88,293.18 660.12,294.28 662.36,294.84 664.60,296.73 666.84,294.00 669.08,294.23 671.32,293.00 673.56,291.11 675.80,289.46 678.04,289.39 680.28,289.79 682.52,288.79 684.76,289.50 687.00,286.88" fill="none" stroke="#640a0a" stroke-width="1.7" stroke-linejoin="round"/>
<polyline points="563.80,197.60 566.04,197.60 568.28,197.60 570.52,197.60 572.76,197.60 575.00,197.60 577.24,197.60 579.48,197.60 581.72,197.60 583.96,198.88 586.20,202.57 588.44,206.80 590.68,211.28 592.92,215.85 595.16,221.01 597.40,223.96 599.64,229.58 601.88,234.34 604.12,239.33 606.36,243.25 608.60,248.00 610.84,253.08 613.08,254.70 615.32,258.39 617.56,261.95 619.80,264.99 622.04,267.10 624.28,269.41 626.52,270.79 628.76,272.18 631.00,274.85 633.24,274.93 635.48,275.66 637.72,279.79 639.96,280.05 642.20,280.21 644.44,281.09 646.68,284.62 648.92,284.67 651.16,285.72 653.40,289.22 655.64,292.03 657.88,290.46 660.12,290.63 662.36,292.55 664.60,294.72 666.84,296.29 669.08,297.19 671.32,295.75 673.56,296.51 675.80,297.95 678.04,296.03 680.28,295.12 682.52,297.03 684.76,295.57 687.00,295.68" fill="none" stroke="#640a0a" stroke-width="1.7" stroke-linejoin="round"/>
<polyline points="563.80,198.82 566.04,198.82 568.28,198.82 570.52,198.82 572.76,198.82 575.00,198.82 577.24,198.82 579.48,198.82 581.72,200.42 583.96,204.98 586.20,210.19 588.44,215.65 590.68,220.03 592.92,225.11 595.16,229.25 597.40,233.97 599.64,238.39 601.88,245.35 604.12,249.50 606.36,254.16 608.60,257.62 610.84,262.21 613.08,264.55 615.32,268.29 617.56,272.88 619.80,277.00 622.04,280.98 624.28,282.99 626.52,286.70 628.76,288.20 631.00,290.99 633.24,292.00 635.48,293.02 637.72,293.88 639.96,293.45 642.20,296.85 644.44,296.19 646.68,297.40 648.92,298.09 651.16,298.33 653.40,297.93 655.64,299.65 657.88,300.88 660.12,299.68 662.36,302.48 664.60,302.37 666.84,302.37 669.08,304.90 671.32,304.49 673.56,303.94 675.80,302.55 678.04,304.01 680.28,302.48 682.52,303.29" fill="none" stroke="#640a0a" stroke-width="1.7" stroke-linejoin="round"/>
<line x1="650.1" y1="244.7" x2="650.1" y2="187.8" stroke="#000" stroke-width="1.1"/>
<path d="M650.1,181.3 L646.9,188.8 L653.3000000000001,188.8 Z" fill="#000"/>
<line x1="650.1" y1="244.7" x2="713.8" y2="244.7" stroke="#000" stroke-width="1.1"/>
<path d="M720.3,244.7 L712.8,241.5 L712.8,247.89999999999998 Z" fill="#000"/>
<line x1="650.1" y1="193.8" x2="653.1" y2="193.8" stroke="#000" stroke-width="1"/>
<line x1="650.1" y1="218.9" x2="653.1" y2="218.9" stroke="#000" stroke-width="1"/>
<line x1="664.60" y1="244.7" x2="664.60" y2="242.89999999999998" stroke="#666" stroke-width="0.7"/>
<line x1="679.40" y1="244.7" x2="679.40" y2="242.89999999999998" stroke="#666" stroke-width="0.7"/>
<line x1="694.00" y1="244.7" x2="694.00" y2="242.89999999999998" stroke="#666" stroke-width="0.7"/>
<line x1="708.20" y1="244.7" x2="708.20" y2="242.89999999999998" stroke="#666" stroke-width="0.7"/>
<text x="647.6" y="197.4" font-size="10.2" text-anchor="end" fill="#111" font-weight="normal" textLength="18" lengthAdjust="spacingAndGlyphs" stroke="#111" stroke-width="0.25">100</text>
<text x="647" y="222.5" font-size="10.2" text-anchor="end" fill="#111" font-weight="normal" textLength="12" lengthAdjust="spacingAndGlyphs" stroke="#111" stroke-width="0.25">60</text>
<text x="647" y="248.3" font-size="10.2" text-anchor="end" fill="#111" font-weight="normal" textLength="12" lengthAdjust="spacingAndGlyphs" stroke="#111" stroke-width="0.25">20</text>
<text x="624.3" y="213.2" font-size="11.6" text-anchor="middle" fill="#111" font-weight="normal" textLength="79" lengthAdjust="spacingAndGlyphs" transform="rotate(-90 624.3 213.2)" stroke="#111" stroke-width="0.25">Demix time (h)</text>
<text x="684.5" y="256.5" font-size="11.6" text-anchor="middle" fill="#111" font-weight="normal" textLength="71.5" lengthAdjust="spacingAndGlyphs" stroke="#111" stroke-width="0.25">Nutrient conc.</text>
<circle cx="657.1" cy="229.4" r="2.4" fill="#0a18d2"/>
<circle cx="657.1" cy="233.2" r="2.4" fill="#0a18d2"/>
<circle cx="657.1" cy="242.7" r="2.4" fill="#0a18d2"/>
<circle cx="664.6" cy="235.2" r="2.4" fill="#3a78e4"/>
<circle cx="664.6" cy="237.7" r="2.4" fill="#3a78e4"/>
<circle cx="672.2" cy="228.9" r="2.4" fill="#8ee4f4"/>
<circle cx="672.2" cy="238.2" r="2.4" fill="#8ee4f4"/>
<circle cx="679.4" cy="224.4" r="2.4" fill="#9ee88a"/>
<circle cx="679.4" cy="233.2" r="2.4" fill="#9ee88a"/>
<circle cx="686.4" cy="222.6" r="2.4" fill="#f6e62e"/>
<circle cx="686.4" cy="225" r="2.4" fill="#f6e62e"/>
<circle cx="686.4" cy="227.6" r="2.4" fill="#f6e62e"/>
<circle cx="694" cy="223.9" r="2.4" fill="#dc8a30"/>
<circle cx="694" cy="226.4" r="2.4" fill="#dc8a30"/>
<circle cx="701" cy="198.8" r="2.4" fill="#c81e1e"/>
<circle cx="701" cy="207.6" r="2.4" fill="#c81e1e"/>
<circle cx="701" cy="223.1" r="2.4" fill="#c81e1e"/>
<circle cx="708.2" cy="204.3" r="2.4" fill="#640a0a"/>
<circle cx="708.2" cy="219.4" r="2.4" fill="#640a0a"/>
<circle cx="708.2" cy="221.4" r="2.4" fill="#640a0a"/>
</svg></body></html>
